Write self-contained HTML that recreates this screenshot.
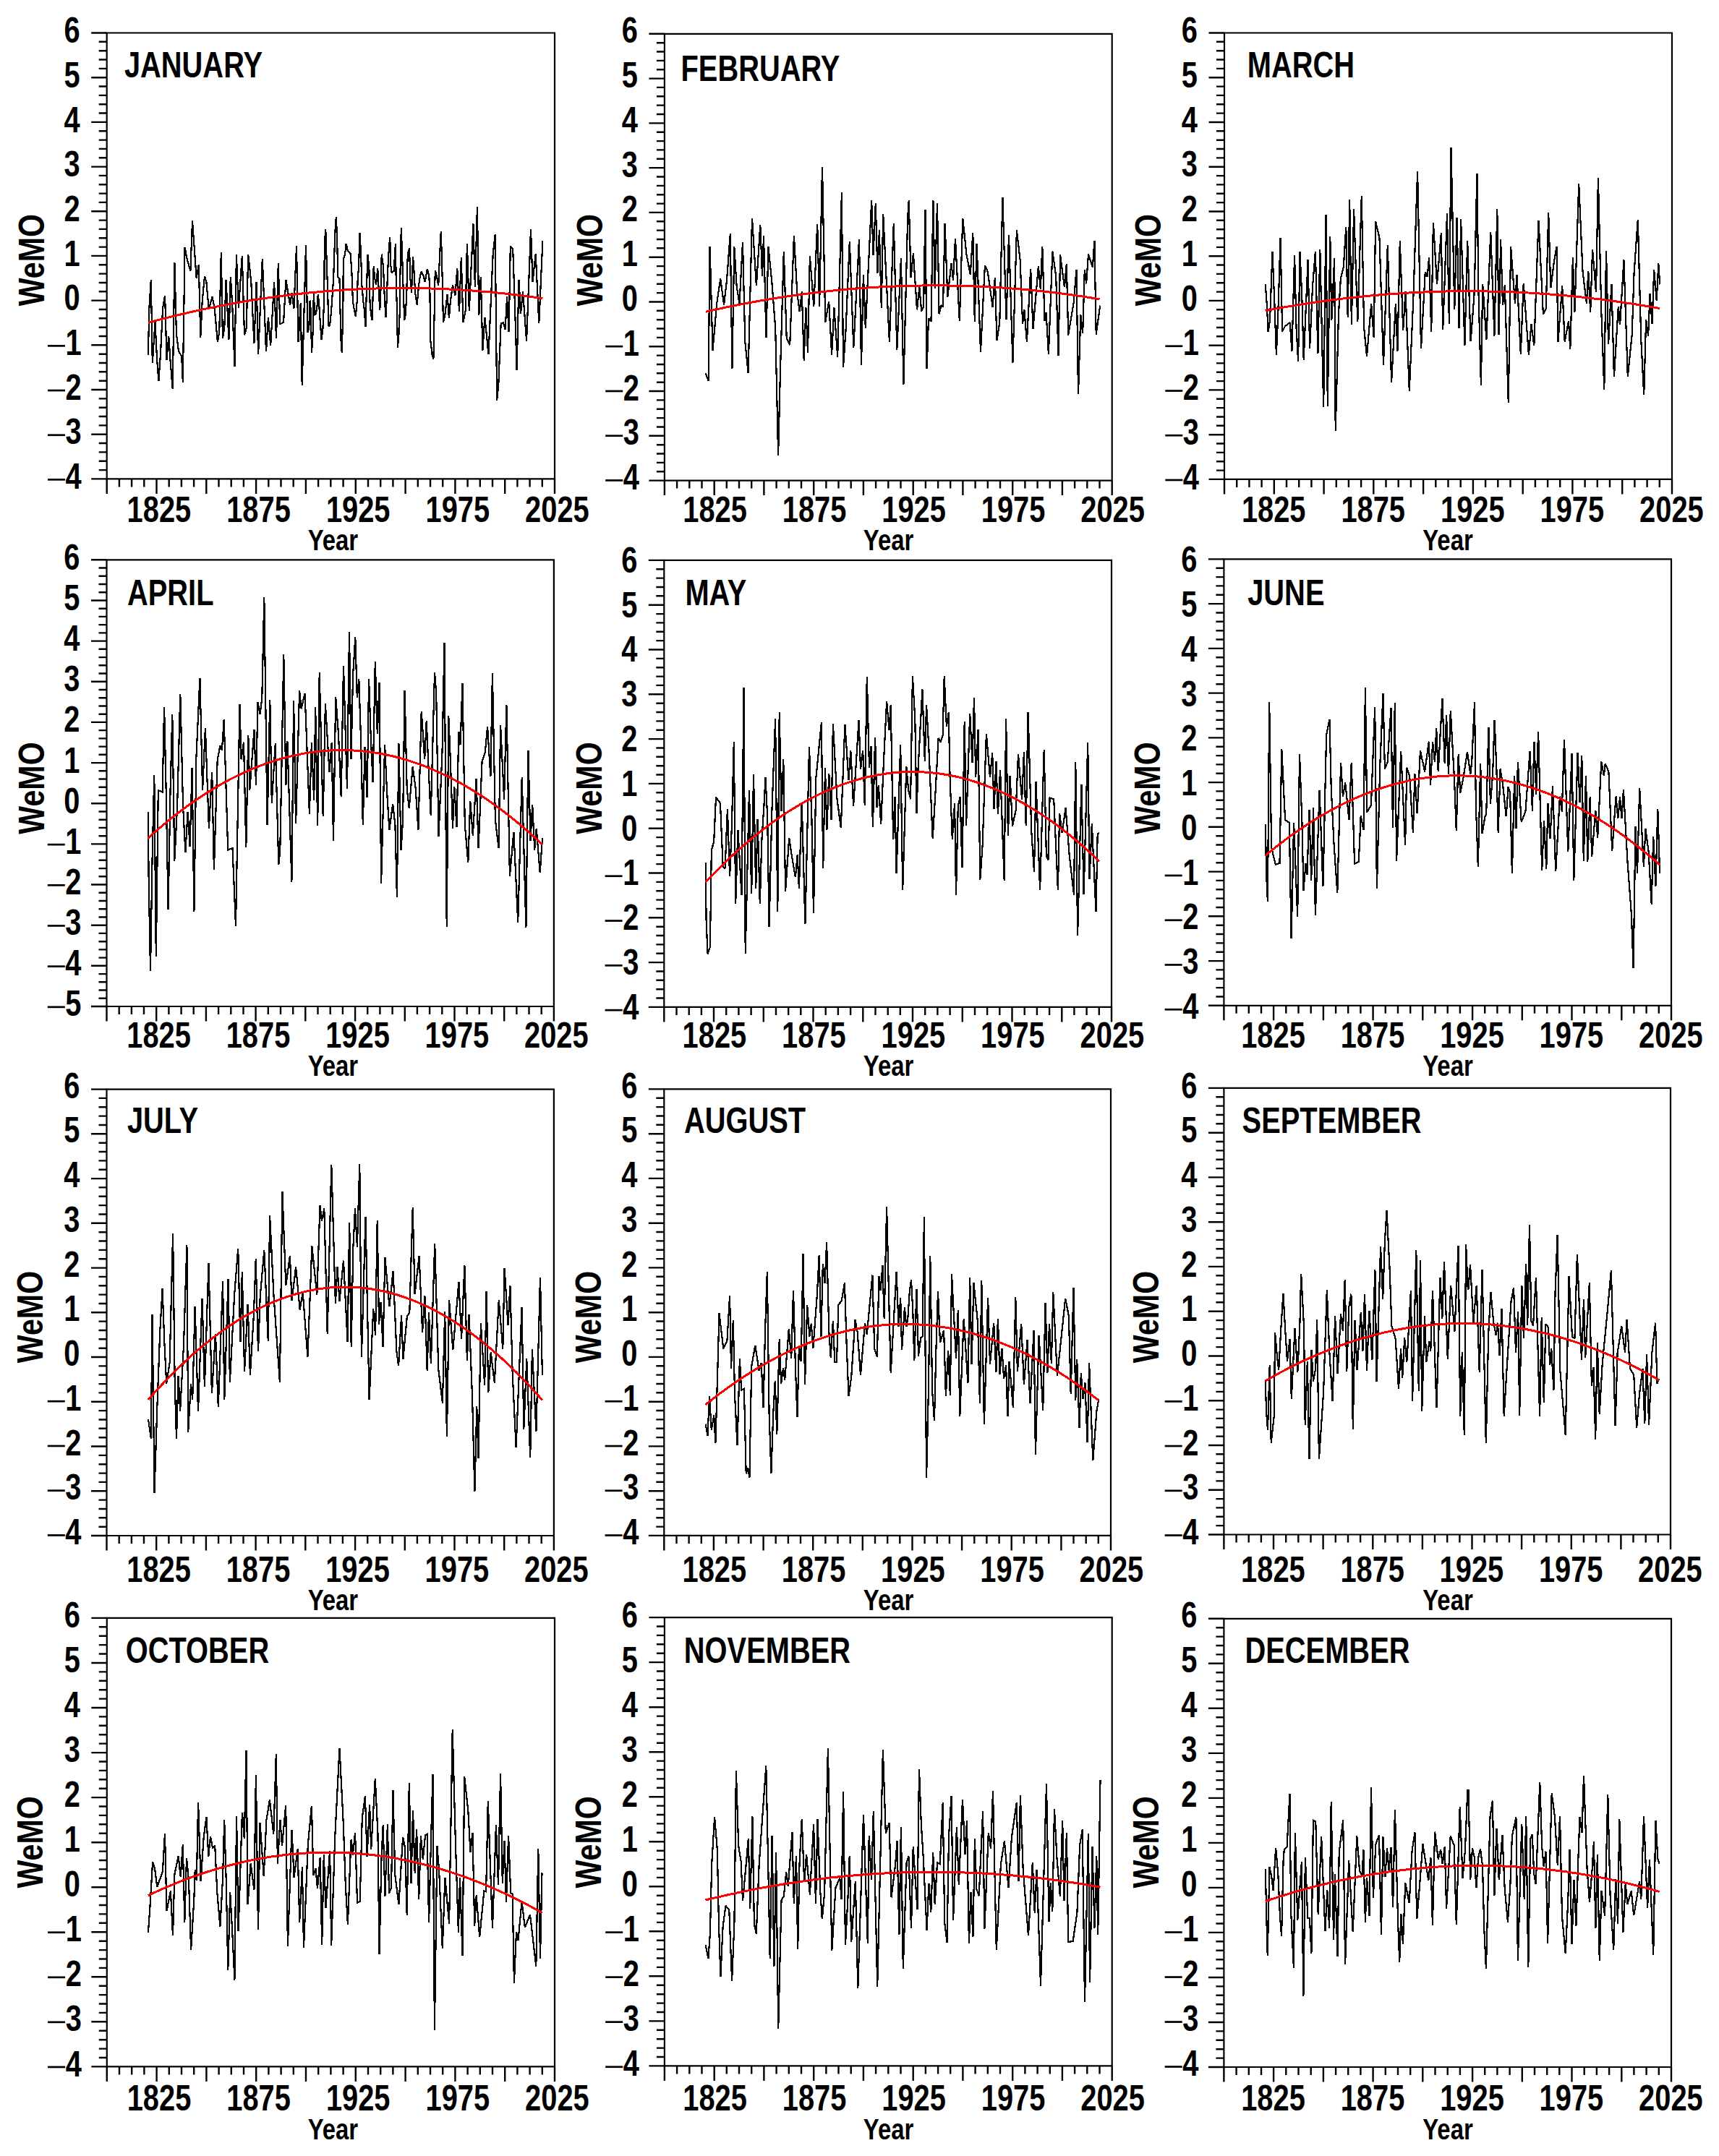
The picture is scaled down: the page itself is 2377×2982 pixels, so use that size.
<!DOCTYPE html>
<html><head><meta charset="utf-8"><title>WeMO monthly series</title>
<style>
html,body{margin:0;padding:0;background:#fff;}
body{width:2377px;height:2982px;overflow:hidden;}
svg{display:block;}
svg text{font-family:"Liberation Sans",Arial,sans-serif;font-weight:bold;font-size:49.5px;fill:#000;}
</style></head><body>
<svg xmlns="http://www.w3.org/2000/svg" width="2377" height="2982" viewBox="0 0 2377 2982">
<rect width="100%" height="100%" fill="#fff"/>
<g><path d="M204.8,491.1 206.4,425.9 208.8,386.8 210.8,501.7 214.5,445.5 217,496 219.4,526.9 221.9,491.1 225.1,425.9 228.1,408.8 230.5,497.6 233.3,465 235.7,500.9 238.7,538.3 241.4,363.2 243.9,461.8 247.1,486.2 251.2,492.7 252.8,528.5 255.6,342 258.5,357.5 263.4,374.6 266,305.4 268.6,341.2 271.6,384.4 274.8,365.7 277.3,466.6 279.7,416.2 283,381.9 285.4,390.1 288.7,427.6 293.6,410.4 296.8,427.6 300.9,473.2 303.3,458.5 305.8,349.4 307.9,468.3 310.3,453.6 312.6,386.8 316.4,469.9 318.8,382.8 321.2,421 324.5,507.4 326.9,351.8 329.9,425.9 334.8,354.3 338,463.4 340.8,453.6 343.2,351.8 347.3,390.1 351.4,474.8 354.6,390.1 357.1,490.3 362.8,358.3 368,486.2 370.9,439 374.2,478.1 379.1,390.1 382,468.3 384.8,364 387.2,448.7 392.1,445.5 395.4,386.8 401.1,421.9 403.5,404.7 406.4,426.7 410,340.4 412.5,473.2 415.7,419.4 417.7,532.6 423,339.3 424.2,399.6 425.5,459.8 427.3,453.7 428.5,415.6 429.8,429.1 431,488.1 432.8,457.3 433.8,405.7 435.3,435.2 436.8,434.6 438.4,424.2 439.8,406.9 441.4,424.2 443,448.7 444.5,469.6 446.4,454.9 448.2,415.6 448.8,336.9 450.3,317.2 451.9,367.6 453.1,400.8 454.3,451.2 456.2,449.4 458,431.5 459.6,408.2 461.1,386 462.3,351.6 463.6,317.2 464.8,300 466,324.6 467.3,383.6 469.5,386 470.3,422.9 471.6,472.1 472.8,488.1 474.4,422.9 474.6,381.1 475.2,357.8 477.1,351.6 478.6,336.9 480.8,346.7 484.5,350.4 486.3,373.8 487.9,416.8 490,429.1 491.8,438.3 493.7,416.8 494.7,386 496.1,368.8 497.4,322.1 499,349.2 500.4,394.7 502.3,416.8 503.9,429.1 505.4,452.4 507,398.3 508.4,351.6 510.3,368.8 511.5,418 513.1,435.2 514.6,443.2 515.8,404.5 516.7,367.6 518.3,386 520.1,393.4 522.3,371.3 523.2,391 525.3,429.1 526.9,391 527.7,351.6 529.9,367.6 531.8,410.6 533.4,438.9 534.9,410.6 535.8,383.6 537.3,351.6 539.2,327.7 540.4,367.6 541.6,376.8 544.7,375 546.9,336.9 547.8,392.2 549,429.1 549.9,480.7 551.5,462.3 552.7,432.8 553.3,386 554.8,315.4 556.4,361.5 557.6,398.3 559.2,442.6 560.7,435.2 562.3,408.2 563.1,367.6 564.1,349.2 566,343.6 567.4,386 569,404.5 571.1,355.3 572.4,373.8 574.2,405.7 576.7,421.7 578.9,395.9 581,381.1 582.8,375.6 585.3,381.1 587.7,389.7 590.8,372.5 593.3,381.1 594.5,406.9 595.1,469.6 597.6,490.5 599.4,496.7 600.6,435.2 601.2,394.7 601.9,373.8 604.3,383.6 606.2,395.3 608,355.3 609.8,319.7 611.7,386 612.9,445.7 615.4,435.2 618.5,406.9 620.9,440.1 623,415.6 626,394.2 629.4,408.6 632.3,371.5 635,431.3 637.8,356.3 640.4,445.7 643.8,428.8 645.9,336.9 648.8,429.7 654.4,309 656.9,396.8 659.9,286.3 662.3,436.4 664.8,383.3 667.4,484.5 670.4,438.9 675.5,490.4 681.7,351.2 684.7,324.2 687.1,553.6 689.3,531.7 692.7,447.4 696,446.5 698.6,455.8 701.1,410.3 703.6,459.2 705.8,340.2 709.2,344.5 712.1,427.1 714.6,511.5 717.5,387.5 720,433.9 723,402.7 728.1,471.8 734,317.5 736.5,390 740.7,351.2 745.3,446.5 750.4,333.5" fill="none" stroke="#000" stroke-width="2.2" stroke-linejoin="miter" stroke-miterlimit="2" shape-rendering="crispEdges"/><path d="M204.8,446.3 213.9,443.9 223,441.5 232.1,439.2 241.2,436.9 250.3,434.8 259.4,432.6 268.5,430.6 277.5,428.6 286.6,426.7 295.7,424.8 304.8,423 313.9,421.3 323,419.6 332.1,418 341.2,416.5 350.3,415 359.4,413.6 368.5,412.2 377.6,410.9 386.7,409.7 395.8,408.5 404.9,407.4 413.9,406.4 423,405.4 432.1,404.5 441.2,403.7 450.3,402.9 459.4,402.2 468.5,401.5 477.6,400.9 486.7,400.4 495.8,399.9 504.9,399.5 514,399.2 523.1,398.9 532.2,398.7 541.3,398.6 550.3,398.5 559.4,398.5 568.5,398.5 577.6,398.6 586.7,398.8 595.8,399 604.9,399.3 614,399.7 623.1,400.1 632.2,400.6 641.3,401.2 650.4,401.8 659.5,402.5 668.6,403.2 677.7,404 686.7,404.9 695.8,405.8 704.9,406.8 714,407.9 723.1,409 732.2,410.2 741.3,411.5 750.4,412.8" fill="none" stroke="#f00" stroke-width="3.0" shape-rendering="crispEdges"/><path d="M147.7,45.5H767V662.4H147.7Z" fill="none" stroke="#000" stroke-width="2.2"/><path d="M126.2,662.4H147.7M136.7,650.1H147.7M136.7,637.7H147.7M136.7,625.4H147.7M136.7,613H147.7M126.2,600.7H147.7M136.7,588.4H147.7M136.7,576H147.7M136.7,563.7H147.7M136.7,551.4H147.7M126.2,539H147.7M136.7,526.7H147.7M136.7,514.3H147.7M136.7,502H147.7M136.7,489.7H147.7M126.2,477.3H147.7M136.7,465H147.7M136.7,452.7H147.7M136.7,440.3H147.7M136.7,428H147.7M126.2,415.6H147.7M136.7,403.3H147.7M136.7,391H147.7M136.7,378.6H147.7M136.7,366.3H147.7M126.2,353.9H147.7M136.7,341.6H147.7M136.7,329.3H147.7M136.7,316.9H147.7M136.7,304.6H147.7M126.2,292.3H147.7M136.7,279.9H147.7M136.7,267.6H147.7M136.7,255.2H147.7M136.7,242.9H147.7M126.2,230.6H147.7M136.7,218.2H147.7M136.7,205.9H147.7M136.7,193.6H147.7M136.7,181.2H147.7M126.2,168.9H147.7M136.7,156.5H147.7M136.7,144.2H147.7M136.7,131.9H147.7M136.7,119.5H147.7M126.2,107.2H147.7M136.7,94.9H147.7M136.7,82.5H147.7M136.7,70.2H147.7M136.7,57.8H147.7M126.2,45.5H147.7M147.7,662.4V682.9M164.9,662.4V673.4M182.1,662.4V673.4M199.3,662.4V673.4M216.5,662.4V682.9M233.7,662.4V673.4M250.9,662.4V673.4M268.1,662.4V673.4M285.3,662.4V682.9M302.5,662.4V673.4M319.7,662.4V673.4M336.9,662.4V673.4M354.1,662.4V682.9M371.3,662.4V673.4M388.5,662.4V673.4M405.7,662.4V673.4M422.9,662.4V682.9M440.1,662.4V673.4M457.3,662.4V673.4M474.6,662.4V673.4M491.8,662.4V682.9M509,662.4V673.4M526.2,662.4V673.4M543.4,662.4V673.4M560.6,662.4V682.9M577.8,662.4V673.4M595,662.4V673.4M612.2,662.4V673.4M629.4,662.4V682.9M646.6,662.4V673.4M663.8,662.4V673.4M681,662.4V673.4M698.2,662.4V682.9M715.4,662.4V673.4M732.6,662.4V673.4M749.8,662.4V673.4M767,662.4V682.9" stroke="#000" stroke-width="2.4" fill="none"/><rect x="66" y="662" width="24" height="2.7" fill="#000"/><text transform="translate(112.7,676) scale(0.805,1)" text-anchor="end">4</text><rect x="66" y="600.4" width="24" height="2.7" fill="#000"/><text transform="translate(112.7,614.3) scale(0.805,1)" text-anchor="end">3</text><rect x="66" y="538.7" width="24" height="2.7" fill="#000"/><text transform="translate(112.7,552.6) scale(0.805,1)" text-anchor="end">2</text><rect x="66" y="477" width="24" height="2.7" fill="#000"/><text transform="translate(112.7,490.9) scale(0.805,1)" text-anchor="end">1</text><text transform="translate(110.7,429.2) scale(0.805,1)" text-anchor="end">0</text><text transform="translate(110.7,367.6) scale(0.805,1)" text-anchor="end">1</text><text transform="translate(110.7,305.9) scale(0.805,1)" text-anchor="end">2</text><text transform="translate(110.7,244.2) scale(0.805,1)" text-anchor="end">3</text><text transform="translate(110.7,182.5) scale(0.805,1)" text-anchor="end">4</text><text transform="translate(110.7,120.8) scale(0.805,1)" text-anchor="end">5</text><text transform="translate(110.7,59.1) scale(0.805,1)" text-anchor="end">6</text><text transform="translate(219.9,722.2) scale(0.805,1)" text-anchor="middle">1825</text><text transform="translate(357.5,722.2) scale(0.805,1)" text-anchor="middle">1875</text><text transform="translate(495.2,722.2) scale(0.805,1)" text-anchor="middle">1925</text><text transform="translate(632.8,722.2) scale(0.805,1)" text-anchor="middle">1975</text><text transform="translate(770.4,722.2) scale(0.805,1)" text-anchor="middle">2025</text><text transform="translate(460.4,761) scale(0.822,1)" text-anchor="middle" style="font-size:40px">Year</text><text transform="translate(61.4,359.7) rotate(-90) scale(0.832,1)" text-anchor="middle">WeMO</text><text transform="translate(171.9,107) scale(0.805,1)">JANUARY</text></g>
<g><path d="M975.7,516.1 979.6,526.8 981.6,340.8 985.5,484.9 991.3,418.7 996.2,385.6 1001.1,421.6 1005,387.5 1009.8,323.2 1012.4,510.2 1015.3,340.8 1018.6,395.3 1022.5,420.6 1027,334.9 1030.3,473.2 1034.6,516.1 1040,301.8 1045.9,395.3 1051.3,310.6 1054,381.7 1056,326.2 1059.5,467.4 1062.4,340.8 1067.3,389.5 1072.2,453.7 1076.1,630 1079,512.2 1083.8,347.6 1087.7,467.4 1092.2,477.1 1097.9,326.2 1102.3,405 1105.7,431.3 1108.8,403.1 1111.7,498.5 1114.4,425.5 1117,487.8 1119.9,354.4 1125.3,423.5 1130.2,309.6 1133.1,423.5 1137,230.7 1141.3,445.9 1146.2,416.7 1150.1,490.7 1153.4,425.5 1158.2,493.7 1163.9,265.8 1166,508.3 1169.5,457.6 1174.8,333.9 1180.3,481 1188,331 1191,505.4 1193.9,379.7 1196.8,453.7 1205.2,277.5 1207.5,352.5 1210.8,281.4 1213.4,377.8 1215.9,318.4 1218.8,425.5 1221.2,296 1229.9,473.2 1235.8,308.6 1240.3,483.9 1245.9,357.3 1249.4,531.6 1255.2,299.9 1256.7,277.5 1259.6,383.6 1262.9,350.5 1268,428.4 1271.3,397.2 1274.2,430.4 1277.1,424.5 1279.5,290.1 1281.6,510.2 1284,440.1 1287.5,445 1290.4,277.5 1292.7,399.2 1296,281.4 1298.6,434.3 1301.5,422.6 1304,424.5 1306.6,308.6 1310.3,410.9 1315.5,364.1 1318,387.5 1321,330.1 1326.8,444 1331.3,301.8 1336.5,352.5 1341.8,379.7 1345.3,322.3 1347.8,445 1350.6,336.9 1356,486.8 1361.9,367.1 1365.8,375.8 1372.6,424.5 1375.9,383.6 1378.4,471.3 1382.3,445.9 1386.4,272.6 1391.5,442 1395,325.2 1400.4,501.5 1405.9,318.4 1410.6,359.3 1414.1,447.9 1416.4,428.4 1419.9,473.2 1425.2,371.9 1428.5,454.7 1435.9,368 1438.8,400.2 1441.3,340.8 1444.6,444 1446.6,432.3 1449.9,489.8 1455.4,347.6 1460.2,381.7 1463.5,491.7 1466.1,352.5 1471.9,397.2 1474.8,365.1 1477.2,463.5 1484.6,418.7 1488.5,372.9 1491,545.3 1494.3,435.2 1497.2,460.6 1499.8,372.9 1502.1,392.4 1505,351.5 1510.9,370 1513.4,332.6 1515.7,462.5 1521.2,422.6" fill="none" stroke="#000" stroke-width="2.2" stroke-linejoin="miter" stroke-miterlimit="2" shape-rendering="crispEdges"/><path d="M975.7,431.3 984.8,429.2 993.9,427.2 1002.9,425.3 1012,423.4 1021.1,421.6 1030.2,419.8 1039.3,418.1 1048.4,416.5 1057.4,414.9 1066.5,413.4 1075.6,411.9 1084.7,410.5 1093.8,409.2 1102.8,407.9 1111.9,406.7 1121,405.5 1130.1,404.4 1139.2,403.4 1148.3,402.4 1157.3,401.5 1166.4,400.6 1175.5,399.8 1184.6,399.1 1193.7,398.4 1202.7,397.8 1211.8,397.2 1220.9,396.7 1230,396.3 1239.1,395.9 1248.2,395.6 1257.2,395.3 1266.3,395.1 1275.4,395 1284.5,394.9 1293.6,394.9 1302.6,394.9 1311.7,395 1320.8,395.1 1329.9,395.4 1339,395.6 1348,396 1357.1,396.4 1366.2,396.8 1375.3,397.4 1384.4,397.9 1393.5,398.6 1402.5,399.3 1411.6,400 1420.7,400.8 1429.8,401.7 1438.9,402.7 1447.9,403.7 1457,404.7 1466.1,405.8 1475.2,407 1484.3,408.2 1493.4,409.5 1502.4,410.9 1511.5,412.3 1520.6,413.8" fill="none" stroke="#f00" stroke-width="3.0" shape-rendering="crispEdges"/><path d="M918.9,46.8H1537.7V664.6H918.9Z" fill="none" stroke="#000" stroke-width="2.2"/><path d="M897.4,664.6H918.9M907.9,652.2H918.9M907.9,639.9H918.9M907.9,627.5H918.9M907.9,615.2H918.9M897.4,602.8H918.9M907.9,590.5H918.9M907.9,578.1H918.9M907.9,565.8H918.9M907.9,553.4H918.9M897.4,541H918.9M907.9,528.7H918.9M907.9,516.3H918.9M907.9,504H918.9M907.9,491.6H918.9M897.4,479.3H918.9M907.9,466.9H918.9M907.9,454.5H918.9M907.9,442.2H918.9M907.9,429.8H918.9M897.4,417.5H918.9M907.9,405.1H918.9M907.9,392.8H918.9M907.9,380.4H918.9M907.9,368.1H918.9M897.4,355.7H918.9M907.9,343.3H918.9M907.9,331H918.9M907.9,318.6H918.9M907.9,306.3H918.9M897.4,293.9H918.9M907.9,281.6H918.9M907.9,269.2H918.9M907.9,256.9H918.9M907.9,244.5H918.9M897.4,232.1H918.9M907.9,219.8H918.9M907.9,207.4H918.9M907.9,195.1H918.9M907.9,182.7H918.9M897.4,170.4H918.9M907.9,158H918.9M907.9,145.6H918.9M907.9,133.3H918.9M907.9,120.9H918.9M897.4,108.6H918.9M907.9,96.2H918.9M907.9,83.9H918.9M907.9,71.5H918.9M907.9,59.2H918.9M897.4,46.8H918.9M918.9,664.6V685.1M936.1,664.6V675.6M953.3,664.6V675.6M970.5,664.6V675.6M987.7,664.6V685.1M1004.8,664.6V675.6M1022,664.6V675.6M1039.2,664.6V675.6M1056.4,664.6V685.1M1073.6,664.6V675.6M1090.8,664.6V675.6M1108,664.6V675.6M1125.2,664.6V685.1M1142.4,664.6V675.6M1159.5,664.6V675.6M1176.7,664.6V675.6M1193.9,664.6V685.1M1211.1,664.6V675.6M1228.3,664.6V675.6M1245.5,664.6V675.6M1262.7,664.6V685.1M1279.9,664.6V675.6M1297.1,664.6V675.6M1314.2,664.6V675.6M1331.4,664.6V685.1M1348.6,664.6V675.6M1365.8,664.6V675.6M1383,664.6V675.6M1400.2,664.6V685.1M1417.4,664.6V675.6M1434.6,664.6V675.6M1451.8,664.6V675.6M1468.9,664.6V685.1M1486.1,664.6V675.6M1503.3,664.6V675.6M1520.5,664.6V675.6M1537.7,664.6V685.1" stroke="#000" stroke-width="2.4" fill="none"/><rect x="837.2" y="663.1" width="24" height="2.7" fill="#000"/><text transform="translate(883.9,677.1) scale(0.805,1)" text-anchor="end">4</text><rect x="837.2" y="601.4" width="24" height="2.7" fill="#000"/><text transform="translate(883.9,615.3) scale(0.805,1)" text-anchor="end">3</text><rect x="837.2" y="539.6" width="24" height="2.7" fill="#000"/><text transform="translate(883.9,553.5) scale(0.805,1)" text-anchor="end">2</text><rect x="837.2" y="477.8" width="24" height="2.7" fill="#000"/><text transform="translate(883.9,491.8) scale(0.805,1)" text-anchor="end">1</text><text transform="translate(881.9,430) scale(0.805,1)" text-anchor="end">0</text><text transform="translate(881.9,368.2) scale(0.805,1)" text-anchor="end">1</text><text transform="translate(881.9,306.4) scale(0.805,1)" text-anchor="end">2</text><text transform="translate(881.9,244.6) scale(0.805,1)" text-anchor="end">3</text><text transform="translate(881.9,182.9) scale(0.805,1)" text-anchor="end">4</text><text transform="translate(881.9,121.1) scale(0.805,1)" text-anchor="end">5</text><text transform="translate(881.9,59.3) scale(0.805,1)" text-anchor="end">6</text><text transform="translate(988.6,722.2) scale(0.805,1)" text-anchor="middle">1825</text><text transform="translate(1126.1,722.2) scale(0.805,1)" text-anchor="middle">1875</text><text transform="translate(1263.6,722.2) scale(0.805,1)" text-anchor="middle">1925</text><text transform="translate(1401.1,722.2) scale(0.805,1)" text-anchor="middle">1975</text><text transform="translate(1538.6,722.2) scale(0.805,1)" text-anchor="middle">2025</text><text transform="translate(1228.6,761) scale(0.822,1)" text-anchor="middle" style="font-size:40px">Year</text><text transform="translate(832.9,359.7) rotate(-90) scale(0.832,1)" text-anchor="middle">WeMO</text><text transform="translate(941.5,111.7) scale(0.805,1)">FEBRUARY</text></g>
<g><path d="M1749.7,392.6 1751.7,419.8 1753.6,458.8 1756,443.2 1759.5,347.8 1762.4,419.8 1764.9,490.9 1767.3,433.5 1770.6,329.3 1773.1,458.8 1777,451 1783.8,446.1 1786.4,486.1 1790.1,352.6 1792.6,454.9 1795.1,499.7 1797.5,347.8 1800.4,414 1802.7,497.8 1808.6,359.5 1811.1,482.2 1815,396.5 1818.9,347.8 1822.4,489 1825.3,344.9 1830.2,563 1833.5,297.1 1835.8,562 1839.3,327.3 1841.3,443.2 1845.2,357.5 1846.7,596.1 1851,433.5 1853.9,384.8 1857.8,369.2 1861.3,313.7 1863.7,439.3 1866.2,275.7 1868.9,449.1 1872.1,289.3 1877.3,445.2 1882.8,270.8 1886.1,453 1890,492.9 1896.2,419.8 1899.7,466.6 1902.1,305.9 1907.5,329.3 1913,504.6 1918.8,339 1924.1,528.9 1929.9,419.8 1932.4,486.1 1935.8,333.2 1940.2,456.8 1943.5,403.3 1948.8,540.6 1954.3,414 1960.1,236.7 1965,482.2 1970.8,376 1973.7,382.8 1976.1,355.6 1979.2,458.8 1981.9,307.8 1987,392.6 1992.8,322.5 1995.2,455.9 2001,295.2 2003.9,448.1 2006.5,203.6 2011.3,427.6 2014.6,301 2017.6,453.9 2020.1,303 2025.4,478.3 2029.2,333.2 2033.6,472.4 2038.5,408.2 2039.5,369.2 2042.4,239.7 2044.3,397.4 2047.9,532.8 2050.2,392.6 2055.4,469.5 2061.3,321.5 2066.4,464.6 2070.3,289.3 2072.6,462.7 2075.1,331.2 2078,421.8 2080.8,394.5 2085.8,557.2 2089.1,341 2095,419.8 2097.5,379.9 2102.8,490 2106.7,391.6 2113.9,490.9 2117.4,448.1 2121.3,478.3 2127.5,304.9 2133.9,434.4 2137.8,426.7 2141.2,294.2 2144.3,398.4 2148.6,364.3 2152.5,341 2154.4,473.4 2160.2,395.5 2163.7,472.4 2169,444.2 2171.3,483.1 2174.9,355.6 2177.4,431.5 2183.2,254.3 2188.5,375 2193.9,419.8 2196.3,375 2199.2,431.5 2202.1,344.9 2207,404.3 2209.9,246.5 2214.4,433.5 2218.3,538.7 2221,346.8 2224.1,476.3 2228.4,392.6 2231.9,521.1 2237.8,423.7 2240.1,449.1 2245.4,359.5 2250.8,521.1 2256.7,462.7 2259.6,377 2264.8,303.9 2269.3,470.5 2273.2,546.4 2276.1,442.2 2279.1,464.6 2281.6,406.2 2284.5,448.1 2287.2,373.1 2290.7,415.9 2293.3,364.3 2295.2,393.5" fill="none" stroke="#000" stroke-width="2.2" stroke-linejoin="miter" stroke-miterlimit="2" shape-rendering="crispEdges"/><path d="M1749.7,429.7 1758.8,428 1767.9,426.3 1777,424.7 1786.1,423.1 1795.2,421.7 1804.2,420.2 1813.3,418.8 1822.4,417.5 1831.5,416.3 1840.6,415 1849.7,413.9 1858.8,412.8 1867.9,411.8 1877,410.8 1886.1,409.9 1895.2,409 1904.3,408.2 1913.3,407.4 1922.4,406.7 1931.5,406.1 1940.6,405.5 1949.7,404.9 1958.8,404.5 1967.9,404.1 1977,403.7 1986.1,403.4 1995.2,403.1 2004.3,402.9 2013.4,402.8 2022.4,402.7 2031.5,402.7 2040.6,402.7 2049.7,402.8 2058.8,403 2067.9,403.2 2077,403.4 2086.1,403.7 2095.2,404.1 2104.3,404.5 2113.4,405 2122.5,405.6 2131.5,406.2 2140.6,406.8 2149.7,407.5 2158.8,408.3 2167.9,409.1 2177,410 2186.1,410.9 2195.2,411.9 2204.3,413 2213.4,414.1 2222.5,415.2 2231.6,416.5 2240.6,417.7 2249.7,419.1 2258.8,420.4 2267.9,421.9 2277,423.4 2286.1,424.9 2295.2,426.6" fill="none" stroke="#f00" stroke-width="3.0" shape-rendering="crispEdges"/><path d="M1693,45.5H2312V662.9H1693Z" fill="none" stroke="#000" stroke-width="2.2"/><path d="M1671.5,662.9H1693M1682,650.6H1693M1682,638.2H1693M1682,625.9H1693M1682,613.5H1693M1671.5,601.2H1693M1682,588.8H1693M1682,576.5H1693M1682,564.1H1693M1682,551.8H1693M1671.5,539.4H1693M1682,527.1H1693M1682,514.7H1693M1682,502.4H1693M1682,490H1693M1671.5,477.7H1693M1682,465.3H1693M1682,453H1693M1682,440.6H1693M1682,428.3H1693M1671.5,415.9H1693M1682,403.6H1693M1682,391.2H1693M1682,378.9H1693M1682,366.5H1693M1671.5,354.2H1693M1682,341.9H1693M1682,329.5H1693M1682,317.2H1693M1682,304.8H1693M1671.5,292.5H1693M1682,280.1H1693M1682,267.8H1693M1682,255.4H1693M1682,243.1H1693M1671.5,230.7H1693M1682,218.4H1693M1682,206H1693M1682,193.7H1693M1682,181.3H1693M1671.5,169H1693M1682,156.6H1693M1682,144.3H1693M1682,131.9H1693M1682,119.6H1693M1671.5,107.2H1693M1682,94.9H1693M1682,82.5H1693M1682,70.2H1693M1682,57.8H1693M1671.5,45.5H1693M1693,662.9V683.4M1710.2,662.9V673.9M1727.4,662.9V673.9M1744.6,662.9V673.9M1761.8,662.9V683.4M1779,662.9V673.9M1796.2,662.9V673.9M1813.4,662.9V673.9M1830.6,662.9V683.4M1847.8,662.9V673.9M1864.9,662.9V673.9M1882.1,662.9V673.9M1899.3,662.9V683.4M1916.5,662.9V673.9M1933.7,662.9V673.9M1950.9,662.9V673.9M1968.1,662.9V683.4M1985.3,662.9V673.9M2002.5,662.9V673.9M2019.7,662.9V673.9M2036.9,662.9V683.4M2054.1,662.9V673.9M2071.3,662.9V673.9M2088.5,662.9V673.9M2105.7,662.9V683.4M2122.9,662.9V673.9M2140.1,662.9V673.9M2157.2,662.9V673.9M2174.4,662.9V683.4M2191.6,662.9V673.9M2208.8,662.9V673.9M2226,662.9V673.9M2243.2,662.9V683.4M2260.4,662.9V673.9M2277.6,662.9V673.9M2294.8,662.9V673.9M2312,662.9V683.4" stroke="#000" stroke-width="2.4" fill="none"/><rect x="1611.3" y="662.6" width="24" height="2.7" fill="#000"/><text transform="translate(1658,676.6) scale(0.805,1)" text-anchor="end">4</text><rect x="1611.3" y="600.9" width="24" height="2.7" fill="#000"/><text transform="translate(1658,614.9) scale(0.805,1)" text-anchor="end">3</text><rect x="1611.3" y="539.2" width="24" height="2.7" fill="#000"/><text transform="translate(1658,553.1) scale(0.805,1)" text-anchor="end">2</text><rect x="1611.3" y="477.4" width="24" height="2.7" fill="#000"/><text transform="translate(1658,491.4) scale(0.805,1)" text-anchor="end">1</text><text transform="translate(1656,429.6) scale(0.805,1)" text-anchor="end">0</text><text transform="translate(1656,367.9) scale(0.805,1)" text-anchor="end">1</text><text transform="translate(1656,306.2) scale(0.805,1)" text-anchor="end">2</text><text transform="translate(1656,244.4) scale(0.805,1)" text-anchor="end">3</text><text transform="translate(1656,182.7) scale(0.805,1)" text-anchor="end">4</text><text transform="translate(1656,120.9) scale(0.805,1)" text-anchor="end">5</text><text transform="translate(1656,59.2) scale(0.805,1)" text-anchor="end">6</text><text transform="translate(1761.2,722.2) scale(0.805,1)" text-anchor="middle">1825</text><text transform="translate(1898.7,722.2) scale(0.805,1)" text-anchor="middle">1875</text><text transform="translate(2036.3,722.2) scale(0.805,1)" text-anchor="middle">1925</text><text transform="translate(2173.8,722.2) scale(0.805,1)" text-anchor="middle">1975</text><text transform="translate(2311.4,722.2) scale(0.805,1)" text-anchor="middle">2025</text><text transform="translate(2002,761) scale(0.822,1)" text-anchor="middle" style="font-size:40px">Year</text><text transform="translate(1604.5,359.7) rotate(-90) scale(0.832,1)" text-anchor="middle">WeMO</text><text transform="translate(1724.7,106.9) scale(0.805,1)">MARCH</text></g>
<g><path d="M205,1123 205.5,1205.7 208,1343.4 210.5,1190.7 213.3,1071.7 215.8,1323.4 218.8,1093 224.6,1095.5 227.1,977.8 229.6,1090.5 232.6,1258.3 235.6,1090.5 238.3,987.8 241.3,1190.7 245.1,1115.5 249.3,959.8 253.1,1115.5 256.4,1179.4 259.6,1123 262.6,1170.6 265.6,1061.7 268.4,1260.8 271.4,1047.9 276.4,937.7 280.1,1093 283.9,1006.6 288.9,1145.6 293.2,1067.9 295.9,1203.2 300.7,1050.4 304.4,1031.6 306.9,1037.9 309.7,995.3 315.2,1175.6 321.5,1173.1 326,1280.8 331.5,974.5 333.5,1050.4 337,1026.6 340.3,1171.9 343.3,1016.6 345.3,1093 351.5,1009.1 354,1085.5 356.5,971.5 359.5,987.8 362.3,965.3 365.3,826.3 369.6,1140.6 373.3,967.8 375.8,1110.5 380.8,1027.9 385.3,1195.7 387.3,1175.6 392.3,905.2 395.4,1085.5 397.4,1025.4 403.4,1219.5 406.1,969 409.1,1139.3 414.1,955.2 416.6,980.3 421.6,959 427.9,1125.5 430.9,1026.6 434.2,1106.8 436.2,977.8 439.2,1141.8 441.7,930.2 446.7,1129.3 449.9,972.8 455.5,1067.9 458.7,1026.6 461,1163.1 464.2,964 468,1015.4 471.7,1101.8 475,921.4 480,1090.5 483,873.9 485.5,1050.4 488,935.2 491.3,881.4 493.8,965.3 496.3,939 498.8,1015.4 501.8,1140.6 504.6,1032.9 507.6,1103 510.1,939 512.6,1015.4 515.6,1081.7 518.8,915.2 521.8,1015.4 524.6,944 527.1,1222 532.1,1030.4 535.1,1095.5 538.4,1148.1 543.1,1111.8 546.4,1140.6 548.9,1240.7 551.4,1027.9 554.6,1175.6 557.1,1133.1 559.6,955.2 562.7,1090.5 565.7,1118 570.7,1060.4 574.7,1090.5 578.4,1148.1 582.7,984 587.2,1050.4 589.7,996.6 592.7,1065.4 595.7,1128 601,930.2 603.2,957.7 606.5,1156.8 611.5,1040.4 614.5,888.9 617.7,1282.1 620.3,990.3 622.8,1050.4 626,1145.6 628.3,1088 631.5,1144.3 634.3,1011.6 636.5,1030.4 639.5,945.2 642.8,1140.6 647.3,1193.2 650.3,1108 653.8,1155.6 658.6,1076.7 661.6,1173.1 666.6,1052.9 670.8,1040.4 674.1,1005.3 678.4,1074.2 680.9,931.5 684.9,1134.3 689.6,1173.1 692.1,1002.8 697.1,1105.5 700.4,975.3 704.9,1211.9 710.4,1150.6 716.2,1275.8 721.7,1075.5 727.4,1283.3 730.4,1037.9 733.5,1163.1 736.2,1113 739.2,1175.6 741.7,1145.6 746.7,1206.9 750,1159.4" fill="none" stroke="#000" stroke-width="2.2" stroke-linejoin="miter" stroke-miterlimit="2" shape-rendering="crispEdges"/><path d="M204.5,1159.5 213.6,1151.3 222.7,1143.5 231.8,1135.9 240.9,1128.6 250,1121.6 259.1,1114.9 268.1,1108.4 277.2,1102.3 286.3,1096.4 295.4,1090.8 304.5,1085.4 313.6,1080.4 322.7,1075.6 331.8,1071.2 340.9,1067 350,1063 359.1,1059.4 368.1,1056 377.2,1052.9 386.3,1050.1 395.4,1047.6 404.5,1045.4 413.6,1043.4 422.7,1041.7 431.8,1040.3 440.9,1039.2 450,1038.4 459.1,1037.8 468.2,1037.5 477.2,1037.5 486.3,1037.8 495.4,1038.4 504.5,1039.2 513.6,1040.3 522.7,1041.8 531.8,1043.4 540.9,1045.4 550,1047.6 559.1,1050.2 568.2,1053 577.3,1056.1 586.4,1059.4 595.4,1063.1 604.5,1067 613.6,1071.2 622.7,1075.7 631.8,1080.5 640.9,1085.5 650,1090.8 659.1,1096.5 668.2,1102.3 677.3,1108.5 686.4,1115 695.5,1121.7 704.5,1128.7 713.6,1136 722.7,1143.6 731.8,1151.4 740.9,1159.6 750,1168" fill="none" stroke="#f00" stroke-width="3.0" shape-rendering="crispEdges"/><path d="M147.5,774.3H765.9V1392H147.5Z" fill="none" stroke="#000" stroke-width="2.2"/><path d="M126,1392H147.5M136.5,1380.8H147.5M136.5,1369.5H147.5M136.5,1358.3H147.5M136.5,1347.1H147.5M126,1335.8H147.5M136.5,1324.6H147.5M136.5,1313.4H147.5M136.5,1302.2H147.5M136.5,1290.9H147.5M126,1279.7H147.5M136.5,1268.5H147.5M136.5,1257.2H147.5M136.5,1246H147.5M136.5,1234.8H147.5M126,1223.5H147.5M136.5,1212.3H147.5M136.5,1201.1H147.5M136.5,1189.8H147.5M136.5,1178.6H147.5M126,1167.4H147.5M136.5,1156.2H147.5M136.5,1144.9H147.5M136.5,1133.7H147.5M136.5,1122.5H147.5M126,1111.2H147.5M136.5,1100H147.5M136.5,1088.8H147.5M136.5,1077.5H147.5M136.5,1066.3H147.5M126,1055.1H147.5M136.5,1043.8H147.5M136.5,1032.6H147.5M136.5,1021.4H147.5M136.5,1010.1H147.5M126,998.9H147.5M136.5,987.7H147.5M136.5,976.5H147.5M136.5,965.2H147.5M136.5,954H147.5M126,942.8H147.5M136.5,931.5H147.5M136.5,920.3H147.5M136.5,909.1H147.5M136.5,897.8H147.5M126,886.6H147.5M136.5,875.4H147.5M136.5,864.1H147.5M136.5,852.9H147.5M136.5,841.7H147.5M126,830.5H147.5M136.5,819.2H147.5M136.5,808H147.5M136.5,796.8H147.5M136.5,785.5H147.5M126,774.3H147.5M147.5,1392V1412.5M164.7,1392V1403M181.9,1392V1403M199,1392V1403M216.2,1392V1412.5M233.4,1392V1403M250.6,1392V1403M267.7,1392V1403M284.9,1392V1412.5M302.1,1392V1403M319.3,1392V1403M336.5,1392V1403M353.6,1392V1412.5M370.8,1392V1403M388,1392V1403M405.2,1392V1403M422.3,1392V1412.5M439.5,1392V1403M456.7,1392V1403M473.9,1392V1403M491.1,1392V1412.5M508.2,1392V1403M525.4,1392V1403M542.6,1392V1403M559.8,1392V1412.5M576.9,1392V1403M594.1,1392V1403M611.3,1392V1403M628.5,1392V1412.5M645.7,1392V1403M662.8,1392V1403M680,1392V1403M697.2,1392V1412.5M714.4,1392V1403M731.5,1392V1403M748.7,1392V1403M765.9,1392V1412.5" stroke="#000" stroke-width="2.4" fill="none"/><rect x="65.8" y="1391.5" width="24" height="2.7" fill="#000"/><text transform="translate(112.5,1405.4) scale(0.805,1)" text-anchor="end">5</text><rect x="65.8" y="1335.3" width="24" height="2.7" fill="#000"/><text transform="translate(112.5,1349.2) scale(0.805,1)" text-anchor="end">4</text><rect x="65.8" y="1279.1" width="24" height="2.7" fill="#000"/><text transform="translate(112.5,1293.1) scale(0.805,1)" text-anchor="end">3</text><rect x="65.8" y="1223" width="24" height="2.7" fill="#000"/><text transform="translate(112.5,1236.9) scale(0.805,1)" text-anchor="end">2</text><rect x="65.8" y="1166.8" width="24" height="2.7" fill="#000"/><text transform="translate(112.5,1180.8) scale(0.805,1)" text-anchor="end">1</text><text transform="translate(110.5,1124.6) scale(0.805,1)" text-anchor="end">0</text><text transform="translate(110.5,1068.5) scale(0.805,1)" text-anchor="end">1</text><text transform="translate(110.5,1012.3) scale(0.805,1)" text-anchor="end">2</text><text transform="translate(110.5,956.2) scale(0.805,1)" text-anchor="end">3</text><text transform="translate(110.5,900) scale(0.805,1)" text-anchor="end">4</text><text transform="translate(110.5,843.9) scale(0.805,1)" text-anchor="end">5</text><text transform="translate(110.5,787.7) scale(0.805,1)" text-anchor="end">6</text><text transform="translate(219.6,1448.8) scale(0.805,1)" text-anchor="middle">1825</text><text transform="translate(357,1448.8) scale(0.805,1)" text-anchor="middle">1875</text><text transform="translate(494.5,1448.8) scale(0.805,1)" text-anchor="middle">1925</text><text transform="translate(631.9,1448.8) scale(0.805,1)" text-anchor="middle">1975</text><text transform="translate(769.3,1448.8) scale(0.805,1)" text-anchor="middle">2025</text><text transform="translate(460.4,1488) scale(0.822,1)" text-anchor="middle" style="font-size:40px">Year</text><text transform="translate(60.6,1090) rotate(-90) scale(0.832,1)" text-anchor="middle">WeMO</text><text transform="translate(176,837) scale(0.805,1)">APRIL</text></g>
<g><path d="M975.7,1192.7 976.6,1272.5 978.5,1319.4 981.9,1310 983.8,1176.7 987.2,1163.5 990,1102.5 996,1111 999.7,1199.2 1002.6,1201.1 1005.9,1119.4 1009.1,1212.4 1012,1139.1 1014.8,1026.4 1017.2,1249.9 1020.4,1147.6 1025.5,1237.7 1028.5,951.3 1030.7,1318.5 1036,1093.1 1039.2,1235.9 1042,1070.6 1045.2,1229.3 1047.6,1133.5 1050.8,1249.9 1053.3,1163.5 1056.7,1110 1058.5,1075.3 1061.2,1129.7 1063.6,1281.9 1067.4,1122.2 1072.1,994.5 1075.3,1261.2 1077.7,985.1 1080.5,1122.2 1083.3,1049.9 1086.1,1233 1091.2,1158.8 1094.6,1182.3 1099.9,1213.3 1102.7,1182.3 1104.9,1229.3 1108.7,1110 1113.4,1278.1 1119,1033 1122.4,1131.6 1125,1263.1 1128.4,1075.3 1135.9,999.2 1138.2,1201.1 1141,1062.1 1143.4,1147.6 1146.3,1069.6 1149.6,1133.5 1151.9,1001.1 1157.5,1105.3 1162.8,1144.8 1168.4,1002 1173.5,1079 1176.3,1037.7 1180.1,1114.7 1187.6,996 1190,1064 1193.2,1037.7 1195.7,1113.8 1198.8,936.3 1202,1062.1 1204.5,1032.1 1206.9,1143.8 1210.1,1019.9 1212.6,1116.6 1214.8,1085.6 1218.2,1140.1 1221.9,1054.6 1226.1,969.7 1229.5,1009.5 1231.7,974.8 1235.1,1160.7 1237.4,1101.6 1239.6,1207.7 1245.2,1030.2 1248.2,1231.2 1253.3,1060.2 1256.3,1094 1259.1,1105.3 1261.9,935.3 1265.3,994.5 1267.5,1125 1269.4,1065.9 1275.4,953.2 1278.8,1052.7 1281.1,974.8 1284.4,1035.8 1289.7,1159.8 1293.5,1095.9 1297.6,1020.8 1300.4,1026.4 1303.6,1017 1305.7,935.3 1308.9,1004.8 1311.7,985.1 1313.6,1075.3 1316.8,1160.7 1320.1,1111 1322,1237.7 1324.8,1114.7 1327.6,1102.5 1330.5,1200.2 1333.7,998.3 1336.1,1141.9 1341.2,987 1344.5,1054.6 1347,965.4 1349.2,1075.3 1352.6,1009.5 1355.3,1217.1 1358.6,1169.2 1363.9,1015.2 1369,1075.3 1372.2,1041.5 1374.6,1118.5 1377.4,1052.7 1379.9,1126 1383.1,1064.9 1388.7,1218 1391.1,993.6 1393.9,1156 1396.6,1073.4 1400,1142.9 1404.7,1120.3 1408,1043.3 1413.1,1106.3 1415.9,1040.5 1418.7,1141.9 1421.6,985.1 1426.3,1150.4 1430,1205.8 1432.5,1080.9 1438.1,1231.2 1443.7,1036.8 1446.9,1184.2 1449.4,1189.8 1451.6,1103.4 1457.2,1105.3 1462.9,1231.2 1465.1,1125 1468.5,1152.3 1473.6,1117.5 1478.8,1184.2 1485,1237.7 1487.3,1053.7 1490.1,1294.1 1492.9,1184.2 1495.4,1084.7 1498.6,1236.8 1504.2,1027.4 1506.5,1216.1 1509.8,1139.1 1515.5,1261.2 1517.7,1153.2 1520.2,1152.3" fill="none" stroke="#000" stroke-width="2.2" stroke-linejoin="miter" stroke-miterlimit="2" shape-rendering="crispEdges"/><path d="M975.7,1220.2 984.8,1210.7 993.9,1201.4 1002.9,1192.5 1012,1183.9 1021.1,1175.6 1030.2,1167.7 1039.2,1160 1048.3,1152.6 1057.4,1145.5 1066.5,1138.8 1075.5,1132.3 1084.6,1126.2 1093.7,1120.3 1102.8,1114.8 1111.8,1109.5 1120.9,1104.6 1130,1100 1139,1095.7 1148.1,1091.7 1157.2,1088 1166.3,1084.6 1175.4,1081.5 1184.4,1078.7 1193.5,1076.2 1202.6,1074.1 1211.7,1072.2 1220.7,1070.7 1229.8,1069.4 1238.9,1068.5 1248,1067.8 1257,1067.5 1266.1,1067.5 1275.2,1067.8 1284.2,1068.4 1293.3,1069.3 1302.4,1070.5 1311.5,1072 1320.6,1073.8 1329.6,1075.9 1338.7,1078.4 1347.8,1081.1 1356.8,1084.1 1365.9,1087.5 1375,1091.1 1384.1,1095.1 1393.2,1099.4 1402.2,1103.9 1411.3,1108.8 1420.4,1114 1429.5,1119.5 1438.5,1125.3 1447.6,1131.4 1456.7,1137.8 1465.8,1144.5 1474.8,1151.6 1483.9,1158.9 1493,1166.5 1502.1,1174.5 1511.1,1182.7 1520.2,1191.3" fill="none" stroke="#f00" stroke-width="3.0" shape-rendering="crispEdges"/><path d="M918.3,774.9H1537V1392.9H918.3Z" fill="none" stroke="#000" stroke-width="2.2"/><path d="M896.8,1392.9H918.3M907.3,1380.5H918.3M907.3,1368.2H918.3M907.3,1355.8H918.3M907.3,1343.5H918.3M896.8,1331.1H918.3M907.3,1318.7H918.3M907.3,1306.4H918.3M907.3,1294H918.3M907.3,1281.7H918.3M896.8,1269.3H918.3M907.3,1256.9H918.3M907.3,1244.6H918.3M907.3,1232.2H918.3M907.3,1219.9H918.3M896.8,1207.5H918.3M907.3,1195.1H918.3M907.3,1182.8H918.3M907.3,1170.4H918.3M907.3,1158.1H918.3M896.8,1145.7H918.3M907.3,1133.3H918.3M907.3,1121H918.3M907.3,1108.6H918.3M907.3,1096.3H918.3M896.8,1083.9H918.3M907.3,1071.5H918.3M907.3,1059.2H918.3M907.3,1046.8H918.3M907.3,1034.5H918.3M896.8,1022.1H918.3M907.3,1009.7H918.3M907.3,997.4H918.3M907.3,985H918.3M907.3,972.7H918.3M896.8,960.3H918.3M907.3,947.9H918.3M907.3,935.6H918.3M907.3,923.2H918.3M907.3,910.9H918.3M896.8,898.5H918.3M907.3,886.1H918.3M907.3,873.8H918.3M907.3,861.4H918.3M907.3,849.1H918.3M896.8,836.7H918.3M907.3,824.3H918.3M907.3,812H918.3M907.3,799.6H918.3M907.3,787.3H918.3M896.8,774.9H918.3M918.3,1392.9V1413.4M935.5,1392.9V1403.9M952.7,1392.9V1403.9M969.9,1392.9V1403.9M987,1392.9V1413.4M1004.2,1392.9V1403.9M1021.4,1392.9V1403.9M1038.6,1392.9V1403.9M1055.8,1392.9V1413.4M1073,1392.9V1403.9M1090.2,1392.9V1403.9M1107.3,1392.9V1403.9M1124.5,1392.9V1413.4M1141.7,1392.9V1403.9M1158.9,1392.9V1403.9M1176.1,1392.9V1403.9M1193.3,1392.9V1413.4M1210.5,1392.9V1403.9M1227.7,1392.9V1403.9M1244.8,1392.9V1403.9M1262,1392.9V1413.4M1279.2,1392.9V1403.9M1296.4,1392.9V1403.9M1313.6,1392.9V1403.9M1330.8,1392.9V1413.4M1348,1392.9V1403.9M1365.1,1392.9V1403.9M1382.3,1392.9V1403.9M1399.5,1392.9V1413.4M1416.7,1392.9V1403.9M1433.9,1392.9V1403.9M1451.1,1392.9V1403.9M1468.3,1392.9V1413.4M1485.4,1392.9V1403.9M1502.6,1392.9V1403.9M1519.8,1392.9V1403.9M1537,1392.9V1413.4" stroke="#000" stroke-width="2.4" fill="none"/><rect x="836.6" y="1395.8" width="24" height="2.7" fill="#000"/><text transform="translate(883.3,1409.7) scale(0.805,1)" text-anchor="end">4</text><rect x="836.6" y="1334" width="24" height="2.7" fill="#000"/><text transform="translate(883.3,1347.9) scale(0.805,1)" text-anchor="end">3</text><rect x="836.6" y="1272.2" width="24" height="2.7" fill="#000"/><text transform="translate(883.3,1286.1) scale(0.805,1)" text-anchor="end">2</text><rect x="836.6" y="1210.4" width="24" height="2.7" fill="#000"/><text transform="translate(883.3,1224.3) scale(0.805,1)" text-anchor="end">1</text><text transform="translate(881.3,1162.5) scale(0.805,1)" text-anchor="end">0</text><text transform="translate(881.3,1100.7) scale(0.805,1)" text-anchor="end">1</text><text transform="translate(881.3,1038.9) scale(0.805,1)" text-anchor="end">2</text><text transform="translate(881.3,977.1) scale(0.805,1)" text-anchor="end">3</text><text transform="translate(881.3,915.3) scale(0.805,1)" text-anchor="end">4</text><text transform="translate(881.3,853.5) scale(0.805,1)" text-anchor="end">5</text><text transform="translate(881.3,791.7) scale(0.805,1)" text-anchor="end">6</text><text transform="translate(987.9,1448.8) scale(0.805,1)" text-anchor="middle">1825</text><text transform="translate(1125.4,1448.8) scale(0.805,1)" text-anchor="middle">1875</text><text transform="translate(1262.9,1448.8) scale(0.805,1)" text-anchor="middle">1925</text><text transform="translate(1400.4,1448.8) scale(0.805,1)" text-anchor="middle">1975</text><text transform="translate(1537.9,1448.8) scale(0.805,1)" text-anchor="middle">2025</text><text transform="translate(1228.6,1488) scale(0.822,1)" text-anchor="middle" style="font-size:40px">Year</text><text transform="translate(832.1,1090) rotate(-90) scale(0.832,1)" text-anchor="middle">WeMO</text><text transform="translate(947.4,837) scale(0.805,1)">MAY</text></g>
<g><path d="M1749.9,1139.7 1751,1206.2 1752.9,1247.1 1755.2,971.4 1758.1,1172 1763.8,1195.8 1769.5,1193.9 1772.3,1036 1777.1,1134 1782.8,1137.8 1785.6,1297.5 1789.1,1137.8 1794.2,1268 1797,1042.7 1800.5,1139.7 1802.4,1231.9 1805.6,1193.9 1807.5,1210 1810.4,1119.7 1813.2,1217.6 1816.1,1116.8 1818.9,1266.1 1824.6,1093.1 1829.4,1226.2 1834.1,1016.1 1838.5,995.1 1840.8,1092.1 1844.6,1168.2 1849.3,1234.7 1854.1,1055 1856.9,1101.6 1860.2,1082.6 1865.5,1134 1868.7,1055 1873.1,1194.8 1878.8,1191.9 1881.7,1128.2 1885.5,1148.2 1887.9,951.4 1890.2,1123.5 1895.9,1114 1901.2,978 1903.9,1229 1908.3,1057.9 1912.5,959 1914.9,1063.6 1918.7,1054.1 1923.5,979 1926,1145.4 1928.8,972.3 1931.1,1191 1937.2,1038.9 1943.1,1169.1 1945.4,1061.7 1949.2,1073.1 1953.9,1152 1956.4,1070.3 1959.6,1125.4 1964,1037.9 1970.1,1067.4 1975.8,1025.6 1978.1,1085.5 1981.1,1026.5 1984,1054.1 1986.2,1007.5 1988.7,1067.4 1994.4,965.7 1997.7,1056 2000.1,989.1 2003,1071.2 2005.8,982.8 2011,1076.9 2013.8,1149.2 2016.7,1042.7 2019.1,1096.9 2023.3,1076.9 2029,1039.8 2033.3,1071.2 2035.2,1054.1 2039,971.4 2040.9,1114.9 2043.8,1198.6 2047.2,1056 2049.5,1153 2053.3,1130.2 2055.2,1126.3 2058.4,1005.6 2060.9,1112.1 2064.1,1071.2 2066.6,996.1 2069.4,1063.6 2071.7,1152 2074.6,1063.6 2078,1084.5 2082.7,1129.2 2085.6,1088.3 2088.1,1095.9 2090.9,1208.1 2094.2,1073.1 2096.4,1146.3 2098.9,1054.1 2103.7,1136.8 2109.4,1122.5 2115.6,1038.9 2118.9,1121.6 2121.4,1025.6 2124.2,1098.8 2127.1,1012.3 2132.2,1204.3 2135,1134.9 2138.3,1201.5 2140.4,1111.1 2143.6,1159.6 2147,1087.4 2151.2,1205.3 2156.9,1101.6 2159.8,1122.5 2163,1022.7 2168.3,1177.7 2173.6,1041.7 2176.3,1217.6 2181.6,1040.8 2184.5,1110.2 2187.3,1045.5 2189.8,1191 2193,1073.1 2195.3,1191.9 2198.7,1101.6 2201.2,1185.3 2206.3,1120.6 2209.2,1158.7 2214.3,1053.1 2217.8,1073.1 2219.7,1056 2224.4,1067.4 2229.2,1176.7 2234.5,1101.6 2237.3,1132.1 2240,1102.6 2242.5,1132.1 2244.9,1092.1 2250.5,1191.9 2255.8,1263.3 2258.6,1339.3 2261.5,1143.5 2264,1208.1 2267.2,1090.2 2272.9,1198.6 2275.4,1146.3 2279.6,1177.7 2283.7,1250.9 2286.2,1156.8 2289.4,1226.2 2292.3,1118.7 2295.1,1208.1" fill="none" stroke="#000" stroke-width="2.2" stroke-linejoin="miter" stroke-miterlimit="2" shape-rendering="crispEdges"/><path d="M1749.5,1183.5 1758.6,1176 1767.7,1168.8 1776.8,1161.9 1785.9,1155.2 1795,1148.8 1804.1,1142.7 1813.2,1136.8 1822.2,1131.1 1831.3,1125.8 1840.4,1120.6 1849.5,1115.8 1858.6,1111.2 1867.7,1106.8 1876.8,1102.8 1885.9,1099 1895,1095.4 1904.1,1092.1 1913.2,1089.1 1922.3,1086.3 1931.4,1083.8 1940.5,1081.5 1949.6,1079.5 1958.6,1077.8 1967.7,1076.3 1976.8,1075.1 1985.9,1074.1 1995,1073.4 2004.1,1073 2013.2,1072.8 2022.3,1072.9 2031.4,1073.2 2040.5,1073.8 2049.6,1074.7 2058.7,1075.8 2067.8,1077.2 2076.9,1078.8 2086,1080.7 2095,1082.9 2104.1,1085.3 2113.2,1088 2122.3,1090.9 2131.4,1094.1 2140.5,1097.6 2149.6,1101.3 2158.7,1105.2 2167.8,1109.5 2176.9,1114 2186,1118.7 2195.1,1123.8 2204.2,1129 2213.3,1134.6 2222.4,1140.4 2231.4,1146.4 2240.5,1152.7 2249.6,1159.3 2258.7,1166.1 2267.8,1173.2 2276.9,1180.6 2286,1188.2 2295.1,1196.1" fill="none" stroke="#f00" stroke-width="3.0" shape-rendering="crispEdges"/><path d="M1692.4,773.4H2311V1390.8H1692.4Z" fill="none" stroke="#000" stroke-width="2.2"/><path d="M1670.9,1390.8H1692.4M1681.4,1378.5H1692.4M1681.4,1366.1H1692.4M1681.4,1353.8H1692.4M1681.4,1341.4H1692.4M1670.9,1329.1H1692.4M1681.4,1316.7H1692.4M1681.4,1304.4H1692.4M1681.4,1292H1692.4M1681.4,1279.7H1692.4M1670.9,1267.3H1692.4M1681.4,1255H1692.4M1681.4,1242.6H1692.4M1681.4,1230.3H1692.4M1681.4,1217.9H1692.4M1670.9,1205.6H1692.4M1681.4,1193.2H1692.4M1681.4,1180.9H1692.4M1681.4,1168.5H1692.4M1681.4,1156.2H1692.4M1670.9,1143.8H1692.4M1681.4,1131.5H1692.4M1681.4,1119.1H1692.4M1681.4,1106.8H1692.4M1681.4,1094.4H1692.4M1670.9,1082.1H1692.4M1681.4,1069.8H1692.4M1681.4,1057.4H1692.4M1681.4,1045.1H1692.4M1681.4,1032.7H1692.4M1670.9,1020.4H1692.4M1681.4,1008H1692.4M1681.4,995.7H1692.4M1681.4,983.3H1692.4M1681.4,971H1692.4M1670.9,958.6H1692.4M1681.4,946.3H1692.4M1681.4,933.9H1692.4M1681.4,921.6H1692.4M1681.4,909.2H1692.4M1670.9,896.9H1692.4M1681.4,884.5H1692.4M1681.4,872.2H1692.4M1681.4,859.8H1692.4M1681.4,847.5H1692.4M1670.9,835.1H1692.4M1681.4,822.8H1692.4M1681.4,810.4H1692.4M1681.4,798.1H1692.4M1681.4,785.7H1692.4M1670.9,773.4H1692.4M1692.4,1390.8V1411.3M1709.6,1390.8V1401.8M1726.8,1390.8V1401.8M1744,1390.8V1401.8M1761.1,1390.8V1411.3M1778.3,1390.8V1401.8M1795.5,1390.8V1401.8M1812.7,1390.8V1401.8M1829.9,1390.8V1411.3M1847.1,1390.8V1401.8M1864.2,1390.8V1401.8M1881.4,1390.8V1401.8M1898.6,1390.8V1411.3M1915.8,1390.8V1401.8M1933,1390.8V1401.8M1950.2,1390.8V1401.8M1967.3,1390.8V1411.3M1984.5,1390.8V1401.8M2001.7,1390.8V1401.8M2018.9,1390.8V1401.8M2036.1,1390.8V1411.3M2053.2,1390.8V1401.8M2070.4,1390.8V1401.8M2087.6,1390.8V1401.8M2104.8,1390.8V1411.3M2122,1390.8V1401.8M2139.2,1390.8V1401.8M2156.3,1390.8V1401.8M2173.5,1390.8V1411.3M2190.7,1390.8V1401.8M2207.9,1390.8V1401.8M2225.1,1390.8V1401.8M2242.3,1390.8V1411.3M2259.4,1390.8V1401.8M2276.6,1390.8V1401.8M2293.8,1390.8V1401.8M2311,1390.8V1411.3" stroke="#000" stroke-width="2.4" fill="none"/><rect x="1610.7" y="1394.9" width="24" height="2.7" fill="#000"/><text transform="translate(1657.4,1408.8) scale(0.805,1)" text-anchor="end">4</text><rect x="1610.7" y="1333.1" width="24" height="2.7" fill="#000"/><text transform="translate(1657.4,1347.1) scale(0.805,1)" text-anchor="end">3</text><rect x="1610.7" y="1271.4" width="24" height="2.7" fill="#000"/><text transform="translate(1657.4,1285.3) scale(0.805,1)" text-anchor="end">2</text><rect x="1610.7" y="1209.6" width="24" height="2.7" fill="#000"/><text transform="translate(1657.4,1223.6) scale(0.805,1)" text-anchor="end">1</text><text transform="translate(1655.4,1161.8) scale(0.805,1)" text-anchor="end">0</text><text transform="translate(1655.4,1100.1) scale(0.805,1)" text-anchor="end">1</text><text transform="translate(1655.4,1038.4) scale(0.805,1)" text-anchor="end">2</text><text transform="translate(1655.4,976.6) scale(0.805,1)" text-anchor="end">3</text><text transform="translate(1655.4,914.9) scale(0.805,1)" text-anchor="end">4</text><text transform="translate(1655.4,853.1) scale(0.805,1)" text-anchor="end">5</text><text transform="translate(1655.4,791.4) scale(0.805,1)" text-anchor="end">6</text><text transform="translate(1760.5,1448.8) scale(0.805,1)" text-anchor="middle">1825</text><text transform="translate(1898,1448.8) scale(0.805,1)" text-anchor="middle">1875</text><text transform="translate(2035.5,1448.8) scale(0.805,1)" text-anchor="middle">1925</text><text transform="translate(2172.9,1448.8) scale(0.805,1)" text-anchor="middle">1975</text><text transform="translate(2310.4,1448.8) scale(0.805,1)" text-anchor="middle">2025</text><text transform="translate(2002,1488) scale(0.822,1)" text-anchor="middle" style="font-size:40px">Year</text><text transform="translate(1603.7,1090) rotate(-90) scale(0.832,1)" text-anchor="middle">WeMO</text><text transform="translate(1725.2,837) scale(0.805,1)">JUNE</text></g>
<g><path d="M205,1962.8 208.8,1989.5 210.6,1818.1 213.5,2065.2 217.3,1947.2 221.3,1840.4 224.6,1782.5 227.3,1856 230.2,1913.8 234.6,1884.9 239.1,1705.7 241.7,1911.6 244,1989.5 246.6,1902.7 249.1,1951.7 254,1860.4 258.4,1722.4 260.2,1980.6 264,1913.8 266.2,1936.1 269.6,1807 274,1951.7 279.6,1795.9 282.9,1918.3 288.5,1746.9 292.9,1927.2 298,1844.8 301.8,1946.1 308.1,1772.5 310.3,1936.1 315.6,1769.2 317.9,1911.6 324.1,1791.4 329.2,1726.9 332.5,1856 334.8,1759.1 338.1,1897.1 342.6,1803.7 345.9,1901.6 350.8,1820.3 353.7,1741.3 357,1869.3 359.7,1793.6 365.3,1729.1 370.8,1854.8 373.1,1681.2 378.6,1793.6 386.9,1911.6 390.4,1647.9 395.3,1778.1 400.9,1736.9 403.5,1799.2 409.1,1752.5 414.7,1811.4 418.7,1787 425.4,1877.1 431.4,1723.5 438.3,1791.4 442.5,1666.8 444.9,1689 448.3,1671.2 452.7,1844.8 458.3,1611.1 463.9,1802.5 466.5,1752.5 469.4,1800.3 475,1743.6 480.6,1856 483.2,1691.3 485.7,1862.6 488.4,1724.6 491,1671.2 493.9,1724.6 497.3,1610 499.9,1877.1 505.5,1683.5 510.6,1936.1 516.2,1810.3 519.1,1847.1 521.7,1687.9 524,1831.5 526.6,1801.4 529.5,1862.6 532.4,1739.1 538.4,1807 543.6,1758 548.4,1869.3 551.1,1889.3 555.1,1819.2 557.4,1880.4 562.9,1820.3 566.3,1815.9 570.7,1670.1 573.6,1790.3 579.6,1736.9 584.1,1842.6 587.4,1792.5 590.7,1896 593,1814.8 595.9,1886 601.2,1720.2 606.3,1893.8 611.9,1940.5 615.2,1813.7 617.9,1987.3 621,1797.6 626.3,1867.1 634.4,1773.2 638.1,1851.5 642.4,1750.2 645.9,1881.5 648.6,1818.1 653.1,1933.9 656.4,2062.9 659.3,1945 661.5,2017.3 664.9,1830.4 670.2,1916 672.6,1785.8 675.3,1926.1 678.7,1870.4 683.8,1912.7 689.8,1798.1 695.3,1866 697.6,1753.6 702.5,1832.6 705.4,1778.1 708.7,1900.5 713.6,2001.7 721.6,1808.1 724.3,1977.3 728.3,1879.3 733.2,2016.2 735.9,1866 741.4,1979.5 747,1766.9 749.9,1901.6" fill="none" stroke="#000" stroke-width="2.2" stroke-linejoin="miter" stroke-miterlimit="2" shape-rendering="crispEdges"/><path d="M205,1936 214.1,1925.7 223.2,1915.9 232.2,1906.3 241.3,1897.1 250.4,1888.3 259.5,1879.8 268.6,1871.6 277.7,1863.8 286.7,1856.4 295.8,1849.3 304.9,1842.5 314,1836.1 323.1,1830 332.1,1824.3 341.2,1819 350.3,1813.9 359.4,1809.2 368.5,1804.9 377.6,1800.9 386.6,1797.3 395.7,1794 404.8,1791.1 413.9,1788.5 423,1786.2 432,1784.3 441.1,1782.8 450.2,1781.6 459.3,1780.7 468.4,1780.2 477.4,1780 486.5,1780.2 495.6,1780.8 504.7,1781.6 513.8,1782.9 522.9,1784.4 531.9,1786.4 541,1788.6 550.1,1791.2 559.2,1794.2 568.3,1797.5 577.3,1801.2 586.4,1805.2 595.5,1809.5 604.6,1814.2 613.7,1819.3 622.8,1824.6 631.8,1830.4 640.9,1836.5 650,1842.9 659.1,1849.7 668.2,1856.8 677.2,1864.3 686.3,1872.1 695.4,1880.3 704.5,1888.8 713.6,1897.7 722.7,1906.9 731.7,1916.4 740.8,1926.3 749.9,1936.6" fill="none" stroke="#f00" stroke-width="3.0" shape-rendering="crispEdges"/><path d="M147.5,1506.6H765.9V2124H147.5Z" fill="none" stroke="#000" stroke-width="2.2"/><path d="M126,2124H147.5M136.5,2111.7H147.5M136.5,2099.3H147.5M136.5,2087H147.5M136.5,2074.6H147.5M126,2062.3H147.5M136.5,2049.9H147.5M136.5,2037.6H147.5M136.5,2025.2H147.5M136.5,2012.9H147.5M126,2000.5H147.5M136.5,1988.2H147.5M136.5,1975.8H147.5M136.5,1963.5H147.5M136.5,1951.1H147.5M126,1938.8H147.5M136.5,1926.4H147.5M136.5,1914.1H147.5M136.5,1901.7H147.5M136.5,1889.4H147.5M126,1877H147.5M136.5,1864.7H147.5M136.5,1852.3H147.5M136.5,1840H147.5M136.5,1827.6H147.5M126,1815.3H147.5M136.5,1803H147.5M136.5,1790.6H147.5M136.5,1778.3H147.5M136.5,1765.9H147.5M126,1753.6H147.5M136.5,1741.2H147.5M136.5,1728.9H147.5M136.5,1716.5H147.5M136.5,1704.2H147.5M126,1691.8H147.5M136.5,1679.5H147.5M136.5,1667.1H147.5M136.5,1654.8H147.5M136.5,1642.4H147.5M126,1630.1H147.5M136.5,1617.7H147.5M136.5,1605.4H147.5M136.5,1593H147.5M136.5,1580.7H147.5M126,1568.3H147.5M136.5,1556H147.5M136.5,1543.6H147.5M136.5,1531.3H147.5M136.5,1518.9H147.5M126,1506.6H147.5M147.5,2124V2144.5M164.7,2124V2135M181.9,2124V2135M199,2124V2135M216.2,2124V2144.5M233.4,2124V2135M250.6,2124V2135M267.7,2124V2135M284.9,2124V2144.5M302.1,2124V2135M319.3,2124V2135M336.5,2124V2135M353.6,2124V2144.5M370.8,2124V2135M388,2124V2135M405.2,2124V2135M422.3,2124V2144.5M439.5,2124V2135M456.7,2124V2135M473.9,2124V2135M491.1,2124V2144.5M508.2,2124V2135M525.4,2124V2135M542.6,2124V2135M559.8,2124V2144.5M576.9,2124V2135M594.1,2124V2135M611.3,2124V2135M628.5,2124V2144.5M645.7,2124V2135M662.8,2124V2135M680,2124V2135M697.2,2124V2144.5M714.4,2124V2135M731.5,2124V2135M748.7,2124V2135M765.9,2124V2144.5" stroke="#000" stroke-width="2.4" fill="none"/><rect x="65.8" y="2122.1" width="24" height="2.7" fill="#000"/><text transform="translate(112.5,2136) scale(0.805,1)" text-anchor="end">4</text><rect x="65.8" y="2060.3" width="24" height="2.7" fill="#000"/><text transform="translate(112.5,2074.3) scale(0.805,1)" text-anchor="end">3</text><rect x="65.8" y="1998.6" width="24" height="2.7" fill="#000"/><text transform="translate(112.5,2012.5) scale(0.805,1)" text-anchor="end">2</text><rect x="65.8" y="1936.8" width="24" height="2.7" fill="#000"/><text transform="translate(112.5,1950.8) scale(0.805,1)" text-anchor="end">1</text><text transform="translate(110.5,1889) scale(0.805,1)" text-anchor="end">0</text><text transform="translate(110.5,1827.3) scale(0.805,1)" text-anchor="end">1</text><text transform="translate(110.5,1765.6) scale(0.805,1)" text-anchor="end">2</text><text transform="translate(110.5,1703.8) scale(0.805,1)" text-anchor="end">3</text><text transform="translate(110.5,1642.1) scale(0.805,1)" text-anchor="end">4</text><text transform="translate(110.5,1580.3) scale(0.805,1)" text-anchor="end">5</text><text transform="translate(110.5,1518.6) scale(0.805,1)" text-anchor="end">6</text><text transform="translate(219.6,2188.2) scale(0.805,1)" text-anchor="middle">1825</text><text transform="translate(357,2188.2) scale(0.805,1)" text-anchor="middle">1875</text><text transform="translate(494.5,2188.2) scale(0.805,1)" text-anchor="middle">1925</text><text transform="translate(631.9,2188.2) scale(0.805,1)" text-anchor="middle">1975</text><text transform="translate(769.3,2188.2) scale(0.805,1)" text-anchor="middle">2025</text><text transform="translate(460.4,2226.8) scale(0.822,1)" text-anchor="middle" style="font-size:40px">Year</text><text transform="translate(59,1821.5) rotate(-90) scale(0.832,1)" text-anchor="middle">WeMO</text><text transform="translate(175.9,1567) scale(0.805,1)">JULY</text></g>
<g><path d="M975.7,1969.6 978.5,1985.6 981,1931.1 983.8,1978.1 987.2,1957.4 989.4,1995.9 992.2,1899.2 994.5,1816.5 1000.3,1865.4 1005.4,1854.1 1009.1,1792.1 1011,1892.6 1013.8,1825.9 1016.1,1931.1 1019.5,1998.7 1022.9,1879.5 1025.1,1922.7 1028.9,1920.8 1031.7,2038.2 1034.5,2030.7 1036.4,2043.8 1039.2,1889.8 1044.3,1860.7 1049.5,1895.4 1052.7,1885.1 1055.5,1947.1 1058,1842.8 1060.8,1759.2 1063.6,1955.5 1066.4,2038.2 1069.2,1955.5 1071.7,1910.4 1074.3,1983.7 1077.7,1852.2 1080.1,1914.2 1083,1891.7 1085.2,1908.6 1090.8,1838.1 1094.2,1878.5 1097,1785.5 1100.2,1899.2 1102.5,1960.2 1104.9,1861.6 1107.7,1883.2 1110.6,1733.9 1113,1915.1 1116.2,1805.3 1119.4,1848.5 1121.8,1830.6 1124.3,1865.4 1129.9,1790.2 1132.7,1735.8 1135.4,1848.5 1137.8,1748 1140.6,1775.2 1143.1,1717.9 1146.3,1841 1148.7,1877.6 1151.9,1826.9 1154.3,1884.2 1157,1884.2 1159.4,1804.3 1163.7,1799.6 1167.9,1774.3 1170.7,1861.6 1173.5,1931.1 1177.2,1904.8 1182.5,1825 1185.7,1842.8 1190,1902 1196,1829.7 1198.8,1845.6 1206.4,1763.6 1209.2,1865.4 1212.9,1876.6 1215.4,1764.9 1217.6,1784.6 1220.4,1749.9 1222.7,1824 1226.1,1669.1 1231.7,1899.2 1239.6,1759.2 1242.6,1835.3 1245.2,1794.9 1247.1,1867.2 1250.9,1808.1 1253.3,1835.3 1255.3,1824 1257.8,1786.5 1260,1770.5 1262.3,1812.8 1264.3,1882.3 1267.5,1782.7 1270,1875.7 1273.2,1850.3 1275.6,1848.5 1277.9,1683.2 1281.1,2043.8 1284.1,1914.2 1286.3,1736.7 1289.1,1923.6 1292,1964.9 1294.2,1872.9 1297,1786.5 1300,1856.9 1305.1,1840 1307.9,1931.1 1311.1,1868.2 1313.9,1930.2 1316,1762.1 1322,1878.5 1324.8,1811.8 1327.3,1959.3 1332.7,1824 1338.4,1913.3 1341.2,1766.8 1343.6,1887 1346.4,1774.3 1352.1,1829.7 1354.9,1940.5 1357.3,1771.5 1360.9,1969.6 1366.1,1794.9 1369,1887 1374.2,1829.7 1377.4,1898.2 1379.9,1824 1382.5,1901.1 1385.5,1865.4 1388.1,1906.7 1391.1,1887.9 1393.4,1959.3 1395.6,1883.2 1400.9,1947.1 1404.3,1794 1406.9,1897.3 1412.2,1830.6 1415.9,1915.1 1420.6,1853.2 1424.4,1941.4 1429.6,1840 1431.9,2011.9 1436.6,1846.6 1442.2,1950.8 1445.6,1802.4 1448.4,1899.2 1451,1830.6 1453.9,1886 1456.3,1787.4 1461.9,1902.9 1473.2,1795.9 1477.9,1820.3 1480.7,1928.3 1484.5,1780.8 1487.3,1936.7 1489.2,1880.4 1492.6,1975.2 1494.8,1899.2 1497.6,1934.9 1500.4,1912.3 1503.6,1995 1506.1,1885.1 1511.3,2020.3 1516.4,1951.8 1519.2,1935.8" fill="none" stroke="#000" stroke-width="2.2" stroke-linejoin="miter" stroke-miterlimit="2" shape-rendering="crispEdges"/><path d="M975.3,1943.1 984.4,1935.9 993.4,1928.9 1002.5,1922.2 1011.6,1915.7 1020.6,1909.5 1029.7,1903.4 1038.8,1897.7 1047.8,1892.1 1056.9,1886.8 1066,1881.8 1075,1877 1084.1,1872.4 1093.1,1868.1 1102.2,1864 1111.3,1860.2 1120.3,1856.6 1129.4,1853.2 1138.5,1850.1 1147.5,1847.2 1156.6,1844.6 1165.7,1842.2 1174.7,1840 1183.8,1838.1 1192.9,1836.4 1201.9,1835 1211,1833.8 1220.1,1832.9 1229.1,1832.1 1238.2,1831.7 1247.2,1831.5 1256.3,1831.5 1265.4,1831.7 1274.4,1832.2 1283.5,1833 1292.6,1833.9 1301.6,1835.2 1310.7,1836.6 1319.8,1838.3 1328.8,1840.3 1337.9,1842.5 1347,1844.9 1356,1847.6 1365.1,1850.5 1374.2,1853.6 1383.2,1857 1392.3,1860.7 1401.4,1864.5 1410.4,1868.7 1419.5,1873 1428.5,1877.6 1437.6,1882.5 1446.7,1887.5 1455.7,1892.9 1464.8,1898.4 1473.9,1904.2 1482.9,1910.3 1492,1916.6 1501.1,1923.1 1510.1,1929.9 1519.2,1936.9" fill="none" stroke="#f00" stroke-width="3.0" shape-rendering="crispEdges"/><path d="M918.3,1506.4H1536V2123.9H918.3Z" fill="none" stroke="#000" stroke-width="2.2"/><path d="M896.8,2123.9H918.3M907.3,2111.6H918.3M907.3,2099.2H918.3M907.3,2086.9H918.3M907.3,2074.5H918.3M896.8,2062.2H918.3M907.3,2049.8H918.3M907.3,2037.5H918.3M907.3,2025.1H918.3M907.3,2012.8H918.3M896.8,2000.4H918.3M907.3,1988.1H918.3M907.3,1975.7H918.3M907.3,1963.4H918.3M907.3,1951H918.3M896.8,1938.7H918.3M907.3,1926.3H918.3M907.3,1914H918.3M907.3,1901.6H918.3M907.3,1889.2H918.3M896.8,1876.9H918.3M907.3,1864.6H918.3M907.3,1852.2H918.3M907.3,1839.9H918.3M907.3,1827.5H918.3M896.8,1815.2H918.3M907.3,1802.8H918.3M907.3,1790.5H918.3M907.3,1778.1H918.3M907.3,1765.8H918.3M896.8,1753.4H918.3M907.3,1741.1H918.3M907.3,1728.7H918.3M907.3,1716.4H918.3M907.3,1704H918.3M896.8,1691.7H918.3M907.3,1679.3H918.3M907.3,1667H918.3M907.3,1654.6H918.3M907.3,1642.2H918.3M896.8,1629.9H918.3M907.3,1617.5H918.3M907.3,1605.2H918.3M907.3,1592.9H918.3M907.3,1580.5H918.3M896.8,1568.2H918.3M907.3,1555.8H918.3M907.3,1543.5H918.3M907.3,1531.1H918.3M907.3,1518.8H918.3M896.8,1506.4H918.3M918.3,2123.9V2144.4M935.5,2123.9V2134.9M952.6,2123.9V2134.9M969.8,2123.9V2134.9M986.9,2123.9V2144.4M1004.1,2123.9V2134.9M1021.2,2123.9V2134.9M1038.4,2123.9V2134.9M1055.6,2123.9V2144.4M1072.7,2123.9V2134.9M1089.9,2123.9V2134.9M1107,2123.9V2134.9M1124.2,2123.9V2144.4M1141.4,2123.9V2134.9M1158.5,2123.9V2134.9M1175.7,2123.9V2134.9M1192.8,2123.9V2144.4M1210,2123.9V2134.9M1227.2,2123.9V2134.9M1244.3,2123.9V2134.9M1261.5,2123.9V2144.4M1278.6,2123.9V2134.9M1295.8,2123.9V2134.9M1312.9,2123.9V2134.9M1330.1,2123.9V2144.4M1347.3,2123.9V2134.9M1364.4,2123.9V2134.9M1381.6,2123.9V2134.9M1398.7,2123.9V2144.4M1415.9,2123.9V2134.9M1433,2123.9V2134.9M1450.2,2123.9V2134.9M1467.4,2123.9V2144.4M1484.5,2123.9V2134.9M1501.7,2123.9V2134.9M1518.8,2123.9V2134.9M1536,2123.9V2144.4" stroke="#000" stroke-width="2.4" fill="none"/><rect x="836.6" y="2122.2" width="24" height="2.7" fill="#000"/><text transform="translate(883.3,2136.1) scale(0.805,1)" text-anchor="end">4</text><rect x="836.6" y="2060.4" width="24" height="2.7" fill="#000"/><text transform="translate(883.3,2074.3) scale(0.805,1)" text-anchor="end">3</text><rect x="836.6" y="1998.7" width="24" height="2.7" fill="#000"/><text transform="translate(883.3,2012.6) scale(0.805,1)" text-anchor="end">2</text><rect x="836.6" y="1936.9" width="24" height="2.7" fill="#000"/><text transform="translate(883.3,1950.9) scale(0.805,1)" text-anchor="end">1</text><text transform="translate(881.3,1889.1) scale(0.805,1)" text-anchor="end">0</text><text transform="translate(881.3,1827.4) scale(0.805,1)" text-anchor="end">1</text><text transform="translate(881.3,1765.6) scale(0.805,1)" text-anchor="end">2</text><text transform="translate(881.3,1703.9) scale(0.805,1)" text-anchor="end">3</text><text transform="translate(881.3,1642.1) scale(0.805,1)" text-anchor="end">4</text><text transform="translate(881.3,1580.4) scale(0.805,1)" text-anchor="end">5</text><text transform="translate(881.3,1518.6) scale(0.805,1)" text-anchor="end">6</text><text transform="translate(987.8,2188.2) scale(0.805,1)" text-anchor="middle">1825</text><text transform="translate(1125.1,2188.2) scale(0.805,1)" text-anchor="middle">1875</text><text transform="translate(1262.4,2188.2) scale(0.805,1)" text-anchor="middle">1925</text><text transform="translate(1399.6,2188.2) scale(0.805,1)" text-anchor="middle">1975</text><text transform="translate(1536.9,2188.2) scale(0.805,1)" text-anchor="middle">2025</text><text transform="translate(1228.6,2226.8) scale(0.822,1)" text-anchor="middle" style="font-size:40px">Year</text><text transform="translate(830.5,1821.5) rotate(-90) scale(0.832,1)" text-anchor="middle">WeMO</text><text transform="translate(946,1567) scale(0.805,1)">AUGUST</text></g>
<g><path d="M1749.6,1910.5 1751.3,1955.8 1753,1978.4 1755.7,1887.9 1757.7,1995.8 1761.7,1959.2 1763.1,1843.5 1766.1,1877.5 1768.2,1894.9 1771,1842.7 1774.4,1788.7 1777.4,1842.7 1780,1882.7 1783.5,1852.2 1785.8,1934.9 1790.5,1837.5 1794.3,1898.3 1797.4,1830.5 1799.2,1761.8 1803,1834 1804.7,1971.4 1807.8,1882.7 1810.5,2018.4 1813.4,1867 1816,1910.5 1819.2,1893.1 1821.2,1825.3 1823.9,2018.4 1830.1,1926.2 1834.8,1784.4 1838.3,1868.8 1842.6,1938.4 1846.1,1820.1 1849.6,1900.1 1854,1817.4 1856.9,1840.9 1859.7,1769.6 1862.3,1896.6 1865.3,1807.9 1868.4,1789.6 1870.8,1976.6 1873.6,1826.1 1876.6,1894.9 1881.8,1814.8 1884.4,1868.8 1887,1789.6 1890,1895.7 1893.4,1813.1 1897.4,1880.9 1901.4,1755.7 1903.5,1910.5 1909.1,1724.4 1912.2,1796.6 1914.8,1719.2 1917.5,1673.9 1921.8,1759.2 1924.4,1834 1929.6,1851.4 1934,1921 1937.1,1865.3 1939.2,1906.2 1942.2,1850.5 1945.3,1884.4 1950.9,1785.3 1953.1,1937.5 1958.3,1728.7 1961.8,1924.4 1964.1,1743.5 1966.2,1952.3 1970,1820.1 1972.3,1883.6 1976.6,1854.9 1978.3,1868.8 1981,1785.3 1986.5,1947.1 1991.4,1767 1994.3,1824.4 1997,1745.2 2001.8,1880.1 2006.2,1778.3 2011.4,1841.8 2016.6,1723.5 2019.2,1959.2 2021.8,1870.5 2024.8,1984.5 2027.1,1720.9 2029.7,1781.8 2030.4,1783.5 2033,1748.7 2037.4,1828.8 2041.7,1778.3 2045.7,1897.5 2049.6,1755.7 2054.8,1995.8 2058.3,1842.7 2061.4,1787 2065.2,1828.8 2068.7,1847 2071,1829.6 2073.6,1874.9 2076.5,1809.6 2079.7,1959.2 2083.5,1894.9 2089.6,1799.2 2093.1,1780.9 2096,1871.4 2099.2,1814 2101.2,1958.4 2104.4,1778.3 2107,1851.4 2110.1,1747.9 2112.2,1833.1 2115,1693.9 2117.4,1827 2120,1834 2123.9,1767 2129.1,1959.2 2131.7,1821.8 2134.8,1940.1 2137.4,1831.4 2140.9,1835.7 2143.2,1887.9 2145.3,1865.3 2148.4,1922.7 2150.5,1788.7 2153.6,1707.8 2157.4,1896.6 2164.7,1984.5 2169.6,1765.3 2174,1848.8 2177.4,1851.4 2180.9,1734.8 2187,1880.9 2190,1797.4 2192.2,1878.3 2197.8,1774 2200.9,1916.6 2203.5,1891.4 2206.2,1990.5 2208.8,1856.6 2211.7,1955.8 2215.7,1886.2 2222.7,1814 2227.9,1757.4 2233.6,1972.3 2236.6,1871.4 2242.3,1834 2247,1870.5 2249.6,1825.3 2254,1893.1 2259.2,1901.8 2263.2,1974.9 2267,1927.9 2271.4,1893.1 2274.3,1968.8 2277.1,1873.1 2280.1,1970.5 2284.4,1870.5 2289.1,1829.6 2291.4,1914 2294,1907" fill="none" stroke="#000" stroke-width="2.2" stroke-linejoin="miter" stroke-miterlimit="2" shape-rendering="crispEdges"/><path d="M1749.6,1910.1 1758.7,1904.9 1767.7,1899.8 1776.8,1895 1785.9,1890.3 1795,1885.8 1804,1881.5 1813.1,1877.4 1822.2,1873.4 1831.3,1869.6 1840.3,1866 1849.4,1862.5 1858.5,1859.3 1867.6,1856.2 1876.6,1853.2 1885.7,1850.5 1894.8,1847.9 1903.8,1845.5 1912.9,1843.3 1922,1841.3 1931.1,1839.4 1940.1,1837.7 1949.2,1836.2 1958.3,1834.9 1967.4,1833.7 1976.4,1832.7 1985.5,1831.9 1994.6,1831.3 2003.7,1830.8 2012.7,1830.5 2021.8,1830.4 2030.9,1830.5 2039.9,1830.7 2049,1831.1 2058.1,1831.7 2067.2,1832.5 2076.2,1833.4 2085.3,1834.6 2094.4,1835.9 2103.5,1837.3 2112.5,1839 2121.6,1840.8 2130.7,1842.8 2139.8,1845 2148.8,1847.3 2157.9,1849.8 2167,1852.5 2176,1855.4 2185.1,1858.4 2194.2,1861.7 2203.3,1865.1 2212.3,1868.6 2221.4,1872.4 2230.5,1876.3 2239.6,1880.4 2248.6,1884.7 2257.7,1889.1 2266.8,1893.8 2275.9,1898.6 2284.9,1903.5 2294,1908.7" fill="none" stroke="#f00" stroke-width="3.0" shape-rendering="crispEdges"/><path d="M1692.4,1504.9H2310V2122.5H1692.4Z" fill="none" stroke="#000" stroke-width="2.2"/><path d="M1670.9,2122.5H1692.4M1681.4,2110.1H1692.4M1681.4,2097.8H1692.4M1681.4,2085.4H1692.4M1681.4,2073.1H1692.4M1670.9,2060.7H1692.4M1681.4,2048.4H1692.4M1681.4,2036H1692.4M1681.4,2023.7H1692.4M1681.4,2011.3H1692.4M1670.9,1999H1692.4M1681.4,1986.6H1692.4M1681.4,1974.3H1692.4M1681.4,1961.9H1692.4M1681.4,1949.6H1692.4M1670.9,1937.2H1692.4M1681.4,1924.9H1692.4M1681.4,1912.5H1692.4M1681.4,1900.2H1692.4M1681.4,1887.8H1692.4M1670.9,1875.5H1692.4M1681.4,1863.1H1692.4M1681.4,1850.8H1692.4M1681.4,1838.4H1692.4M1681.4,1826.1H1692.4M1670.9,1813.7H1692.4M1681.4,1801.3H1692.4M1681.4,1789H1692.4M1681.4,1776.6H1692.4M1681.4,1764.3H1692.4M1670.9,1751.9H1692.4M1681.4,1739.6H1692.4M1681.4,1727.2H1692.4M1681.4,1714.9H1692.4M1681.4,1702.5H1692.4M1670.9,1690.2H1692.4M1681.4,1677.8H1692.4M1681.4,1665.5H1692.4M1681.4,1653.1H1692.4M1681.4,1640.8H1692.4M1670.9,1628.4H1692.4M1681.4,1616.1H1692.4M1681.4,1603.7H1692.4M1681.4,1591.4H1692.4M1681.4,1579H1692.4M1670.9,1566.7H1692.4M1681.4,1554.3H1692.4M1681.4,1542H1692.4M1681.4,1529.6H1692.4M1681.4,1517.3H1692.4M1670.9,1504.9H1692.4M1692.4,2122.5V2143M1709.6,2122.5V2133.5M1726.7,2122.5V2133.5M1743.9,2122.5V2133.5M1761,2122.5V2143M1778.2,2122.5V2133.5M1795.3,2122.5V2133.5M1812.5,2122.5V2133.5M1829.6,2122.5V2143M1846.8,2122.5V2133.5M1864,2122.5V2133.5M1881.1,2122.5V2133.5M1898.3,2122.5V2143M1915.4,2122.5V2133.5M1932.6,2122.5V2133.5M1949.7,2122.5V2133.5M1966.9,2122.5V2143M1984,2122.5V2133.5M2001.2,2122.5V2133.5M2018.4,2122.5V2133.5M2035.5,2122.5V2143M2052.7,2122.5V2133.5M2069.8,2122.5V2133.5M2087,2122.5V2133.5M2104.1,2122.5V2143M2121.3,2122.5V2133.5M2138.4,2122.5V2133.5M2155.6,2122.5V2133.5M2172.8,2122.5V2143M2189.9,2122.5V2133.5M2207.1,2122.5V2133.5M2224.2,2122.5V2133.5M2241.4,2122.5V2143M2258.5,2122.5V2133.5M2275.7,2122.5V2133.5M2292.8,2122.5V2133.5M2310,2122.5V2143" stroke="#000" stroke-width="2.4" fill="none"/><rect x="1610.7" y="2122.2" width="24" height="2.7" fill="#000"/><text transform="translate(1657.4,2136.2) scale(0.805,1)" text-anchor="end">4</text><rect x="1610.7" y="2060.5" width="24" height="2.7" fill="#000"/><text transform="translate(1657.4,2074.4) scale(0.805,1)" text-anchor="end">3</text><rect x="1610.7" y="1998.7" width="24" height="2.7" fill="#000"/><text transform="translate(1657.4,2012.7) scale(0.805,1)" text-anchor="end">2</text><rect x="1610.7" y="1937" width="24" height="2.7" fill="#000"/><text transform="translate(1657.4,1950.9) scale(0.805,1)" text-anchor="end">1</text><text transform="translate(1655.4,1889.2) scale(0.805,1)" text-anchor="end">0</text><text transform="translate(1655.4,1827.4) scale(0.805,1)" text-anchor="end">1</text><text transform="translate(1655.4,1765.6) scale(0.805,1)" text-anchor="end">2</text><text transform="translate(1655.4,1703.9) scale(0.805,1)" text-anchor="end">3</text><text transform="translate(1655.4,1642.1) scale(0.805,1)" text-anchor="end">4</text><text transform="translate(1655.4,1580.4) scale(0.805,1)" text-anchor="end">5</text><text transform="translate(1655.4,1518.6) scale(0.805,1)" text-anchor="end">6</text><text transform="translate(1760.4,2188.2) scale(0.805,1)" text-anchor="middle">1825</text><text transform="translate(1897.7,2188.2) scale(0.805,1)" text-anchor="middle">1875</text><text transform="translate(2034.9,2188.2) scale(0.805,1)" text-anchor="middle">1925</text><text transform="translate(2172.2,2188.2) scale(0.805,1)" text-anchor="middle">1975</text><text transform="translate(2309.4,2188.2) scale(0.805,1)" text-anchor="middle">2025</text><text transform="translate(2002,2226.8) scale(0.822,1)" text-anchor="middle" style="font-size:40px">Year</text><text transform="translate(1602.1,1821.5) rotate(-90) scale(0.832,1)" text-anchor="middle">WeMO</text><text transform="translate(1717.6,1567) scale(0.805,1)">SEPTEMBER</text></g>
<g><path d="M204.9,2673.1 207.4,2638 211.1,2575 214,2584.3 217.3,2610.1 224.9,2588.5 228,2535.8 230.5,2643.2 235.9,2615.3 239,2677.2 241.4,2592.6 246.6,2566.8 249.7,2595.7 252.8,2551.3 255.3,2658.6 258,2569.9 261,2600.8 264.1,2696.8 268.3,2627.7 269.7,2586.4 271.8,2600.8 274.1,2493.1 277.6,2601.9 281.7,2541 285.4,2513.1 288.3,2567.8 291,2540 294.1,2556.5 297.2,2552.3 300.3,2617.4 304.4,2664.8 308.1,2596.7 310.2,2517.3 312.6,2596.7 315.3,2724.7 318.2,2617.4 321.3,2673.1 324.4,2739.1 327.1,2512.1 329.6,2671 334.9,2506.9 337.8,2543.1 340.5,2421.3 342.6,2633.9 346.7,2577.1 351.4,2614.3 353.9,2455.3 357,2669 359.5,2521.4 364.7,2594.7 368.4,2517.3 372.9,2489.4 378.3,2536.9 381.8,2426.4 383.9,2578.1 387.4,2517.3 390,2553.4 395.2,2496.6 397.9,2691.7 403.5,2530.7 406.6,2596.7 411.7,2557.5 414.2,2658.6 417.9,2582.3 420,2693.7 425.8,2551.3 430.9,2497.6 433.4,2593.6 436.5,2584.3 439,2612.2 442.7,2568.9 445.2,2689.6 447.8,2564.7 450.5,2639 456.1,2559.6 458.2,2690.6 463.3,2538.9 469.5,2418.2 474.7,2520.4 477.8,2607 480.9,2661.7 485,2554.4 485.7,2544.1 487.8,2565.8 491.1,2534.8 494,2631.8 497.7,2629.7 500.8,2514.2 504.9,2484.2 507.6,2567.8 511.1,2495.6 513.2,2557.5 518.8,2460.5 522.5,2536.9 524.5,2703 527.6,2565.8 529.7,2524.5 532.4,2622.5 535.9,2523.4 538,2618.4 541,2611.2 543.5,2476 546.2,2592.6 551.4,2633.9 557.1,2541 560,2555.4 562.7,2649.3 565.8,2465.7 568.5,2605 571,2503.8 573.7,2590.5 576.1,2529.6 579.2,2626.6 581.9,2538.9 584.8,2572 588.1,2537.9 590.6,2536.9 593.1,2658.6 598.4,2454.3 600.9,2808.3 604.4,2553.4 607.1,2586.4 611.8,2694.8 615.4,2596.7 621.1,2660.7 625.7,2392.4 629.8,2545.1 633.9,2673.1 636,2596.7 639.5,2705.1 642.2,2457.4 647.3,2503.8 650.4,2561.6 653.5,2534.8 656.2,2663.8 658.7,2621.5 663.2,2679.3 669.4,2615.3 672.1,2616.3 674.8,2491.5 681,2666.9 685.9,2524.5 689,2607 692.1,2453.3 694.8,2605 697.5,2546.2 700,2630.8 703.1,2538.9 706.2,2618.4 708.6,2619.4 710.9,2743.3 714,2672.1 716.5,2683.4 721.6,2629.7 725.8,2665.9 733,2648.3 741.3,2719.5 744.3,2557.5 747,2709.2 749.5,2590.5" fill="none" stroke="#000" stroke-width="2.2" stroke-linejoin="miter" stroke-miterlimit="2" shape-rendering="crispEdges"/><path d="M204.9,2621.7 214,2617.4 223.1,2613.3 232.1,2609.4 241.2,2605.6 250.3,2601.9 259.4,2598.5 268.4,2595.2 277.5,2592 286.6,2589 295.7,2586.2 304.7,2583.5 313.8,2581 322.9,2578.6 332,2576.4 341.1,2574.3 350.1,2572.4 359.2,2570.7 368.3,2569.1 377.4,2567.7 386.4,2566.5 395.5,2565.4 404.6,2564.4 413.7,2563.6 422.7,2563 431.8,2562.5 440.9,2562.2 450,2562.1 459,2562.1 468.1,2562.2 477.2,2562.5 486.3,2563 495.4,2563.7 504.4,2564.4 513.5,2565.4 522.6,2566.5 531.7,2567.8 540.7,2569.2 549.8,2570.8 558.9,2572.5 568,2574.4 577,2576.5 586.1,2578.7 595.2,2581.1 604.3,2583.6 613.4,2586.3 622.4,2589.1 631.5,2592.1 640.6,2595.3 649.7,2598.6 658.7,2602.1 667.8,2605.7 676.9,2609.5 686,2613.5 695,2617.6 704.1,2621.8 713.2,2626.3 722.3,2630.9 731.3,2635.6 740.4,2640.5 749.5,2645.6" fill="none" stroke="#f00" stroke-width="3.0" shape-rendering="crispEdges"/><path d="M147.8,2237.9H767V2858.4H147.8Z" fill="none" stroke="#000" stroke-width="2.2"/><path d="M126.3,2858.4H147.8M136.8,2846H147.8M136.8,2833.6H147.8M136.8,2821.2H147.8M136.8,2808.8H147.8M126.3,2796.3H147.8M136.8,2783.9H147.8M136.8,2771.5H147.8M136.8,2759.1H147.8M136.8,2746.7H147.8M126.3,2734.3H147.8M136.8,2721.9H147.8M136.8,2709.5H147.8M136.8,2697.1H147.8M136.8,2684.7H147.8M126.3,2672.2H147.8M136.8,2659.8H147.8M136.8,2647.4H147.8M136.8,2635H147.8M136.8,2622.6H147.8M126.3,2610.2H147.8M136.8,2597.8H147.8M136.8,2585.4H147.8M136.8,2573H147.8M136.8,2560.6H147.8M126.3,2548.2H147.8M136.8,2535.7H147.8M136.8,2523.3H147.8M136.8,2510.9H147.8M136.8,2498.5H147.8M126.3,2486.1H147.8M136.8,2473.7H147.8M136.8,2461.3H147.8M136.8,2448.9H147.8M136.8,2436.5H147.8M126.3,2424.1H147.8M136.8,2411.6H147.8M136.8,2399.2H147.8M136.8,2386.8H147.8M136.8,2374.4H147.8M126.3,2362H147.8M136.8,2349.6H147.8M136.8,2337.2H147.8M136.8,2324.8H147.8M136.8,2312.4H147.8M126.3,2300H147.8M136.8,2287.5H147.8M136.8,2275.1H147.8M136.8,2262.7H147.8M136.8,2250.3H147.8M126.3,2237.9H147.8M147.8,2858.4V2878.9M165,2858.4V2869.4M182.2,2858.4V2869.4M199.4,2858.4V2869.4M216.6,2858.4V2878.9M233.8,2858.4V2869.4M251,2858.4V2869.4M268.2,2858.4V2869.4M285.4,2858.4V2878.9M302.6,2858.4V2869.4M319.8,2858.4V2869.4M337,2858.4V2869.4M354.2,2858.4V2878.9M371.4,2858.4V2869.4M388.6,2858.4V2869.4M405.8,2858.4V2869.4M423,2858.4V2878.9M440.2,2858.4V2869.4M457.4,2858.4V2869.4M474.6,2858.4V2869.4M491.8,2858.4V2878.9M509,2858.4V2869.4M526.2,2858.4V2869.4M543.4,2858.4V2869.4M560.6,2858.4V2878.9M577.8,2858.4V2869.4M595,2858.4V2869.4M612.2,2858.4V2869.4M629.4,2858.4V2878.9M646.6,2858.4V2869.4M663.8,2858.4V2869.4M681,2858.4V2869.4M698.2,2858.4V2878.9M715.4,2858.4V2869.4M732.6,2858.4V2869.4M749.8,2858.4V2869.4M767,2858.4V2878.9" stroke="#000" stroke-width="2.4" fill="none"/><rect x="66.1" y="2857.6" width="24" height="2.7" fill="#000"/><text transform="translate(112.8,2871.5) scale(0.805,1)" text-anchor="end">4</text><rect x="66.1" y="2795.5" width="24" height="2.7" fill="#000"/><text transform="translate(112.8,2809.4) scale(0.805,1)" text-anchor="end">3</text><rect x="66.1" y="2733.5" width="24" height="2.7" fill="#000"/><text transform="translate(112.8,2747.4) scale(0.805,1)" text-anchor="end">2</text><rect x="66.1" y="2671.4" width="24" height="2.7" fill="#000"/><text transform="translate(112.8,2685.3) scale(0.805,1)" text-anchor="end">1</text><text transform="translate(110.8,2623.3) scale(0.805,1)" text-anchor="end">0</text><text transform="translate(110.8,2561.2) scale(0.805,1)" text-anchor="end">1</text><text transform="translate(110.8,2499.2) scale(0.805,1)" text-anchor="end">2</text><text transform="translate(110.8,2437.2) scale(0.805,1)" text-anchor="end">3</text><text transform="translate(110.8,2375.1) scale(0.805,1)" text-anchor="end">4</text><text transform="translate(110.8,2313.1) scale(0.805,1)" text-anchor="end">5</text><text transform="translate(110.8,2251) scale(0.805,1)" text-anchor="end">6</text><text transform="translate(220,2919) scale(0.805,1)" text-anchor="middle">1825</text><text transform="translate(357.6,2919) scale(0.805,1)" text-anchor="middle">1875</text><text transform="translate(495.2,2919) scale(0.805,1)" text-anchor="middle">1925</text><text transform="translate(632.8,2919) scale(0.805,1)" text-anchor="middle">1975</text><text transform="translate(770.4,2919) scale(0.805,1)" text-anchor="middle">2025</text><text transform="translate(460.4,2958.9) scale(0.822,1)" text-anchor="middle" style="font-size:40px">Year</text><text transform="translate(59,2547.9) rotate(-90) scale(0.832,1)" text-anchor="middle">WeMO</text><text transform="translate(173.7,2299.8) scale(0.805,1)">OCTOBER</text></g>
<g><path d="M975.6,2689.8 979.4,2709 981.9,2674.4 984.2,2578.2 988.1,2512.8 991.9,2558.9 993.9,2659 996.4,2734 999.6,2664.8 1003.5,2635.9 1008.3,2641.7 1012.1,2739.8 1015.4,2660.9 1017.9,2449.3 1021.2,2553.2 1024.6,2574.3 1027,2629.2 1031.4,2582 1034.8,2542.6 1037.2,2639.8 1040.4,2511.8 1042.9,2660.9 1045.8,2675.3 1049.7,2578.2 1055.1,2501.2 1059.3,2442.5 1062.2,2578.2 1064.7,2709 1067.6,2538.7 1070.4,2719.6 1073.1,2561.8 1076.2,2806.2 1080.5,2628.2 1083.9,2622.4 1087.2,2588.8 1089.7,2609 1095.5,2533.9 1097.8,2633 1101,2566.6 1103.2,2695.6 1105.5,2578.2 1108.7,2516.2 1112.2,2603.2 1115.1,2564.7 1119.9,2620.5 1125.1,2523.3 1128,2633 1130.5,2516.2 1134.3,2616.7 1136.8,2654.2 1140.1,2618.6 1144.9,2418.5 1150.3,2698.4 1155.5,2610.9 1161.3,2597.4 1163.6,2627.2 1166.1,2478.1 1169,2689.8 1172.4,2626.3 1174.7,2566.6 1177.2,2685.9 1182.8,2602.2 1186.3,2750.4 1194,2509.9 1199.8,2687.9 1201.7,2538.7 1205.1,2600.3 1207.8,2504.7 1213.2,2747.5 1220.9,2420.4 1224.8,2535.8 1229.6,2521.4 1232.5,2624.4 1238.2,2578.2 1240.5,2546.4 1243.4,2676.3 1245.9,2527.2 1248.8,2722.5 1253.6,2576.3 1256.5,2567.6 1260,2666.7 1262.7,2554.1 1265.8,2601.3 1268.5,2640.7 1271,2447.3 1273.9,2524.3 1276.7,2568.6 1281.6,2669.6 1284.4,2605.1 1287.3,2644.6 1290.2,2561.8 1292.7,2634 1296,2576.3 1299.8,2578.2 1303.7,2492.6 1306.2,2659 1309.5,2686.9 1312,2539.7 1315.6,2483.9 1318.1,2656.1 1322.9,2527.2 1325.8,2607 1331,2488.7 1334.5,2564.7 1337,2518.5 1339.9,2687.9 1342.6,2616.7 1345.4,2679.2 1347.9,2543.5 1350.4,2612.8 1353.7,2622.4 1359.1,2505.1 1361.4,2667.7 1366.8,2534.9 1370.1,2557 1373,2477.2 1377.8,2696.5 1383.9,2578.2 1388.9,2546.4 1394.5,2610.9 1398.9,2541.6 1405.7,2493.5 1408.6,2602.2 1410.9,2482.9 1414.7,2585.9 1422,2677.3 1427.8,2576.3 1430.7,2645.5 1433.6,2585.9 1439,2746.5 1447,2467.5 1450.5,2658 1452.8,2604.2 1455.3,2643.6 1458,2502.2 1461.5,2570.5 1465.9,2623.4 1469.2,2517.6 1471.5,2629.2 1474.9,2534.9 1477.2,2685.9 1483.6,2685 1489.4,2645.5 1493.2,2551.2 1496.7,2530.1 1500,2768.7 1504.8,2535.8 1507.1,2741.7 1510.5,2554.1 1513.4,2666.7 1516.3,2566.6 1518.2,2676.3 1521.5,2461.8" fill="none" stroke="#000" stroke-width="2.2" stroke-linejoin="miter" stroke-miterlimit="2" shape-rendering="crispEdges"/><path d="M975.6,2628 984.7,2625.8 993.8,2623.7 1002.9,2621.6 1012,2619.6 1021.1,2617.6 1030.2,2615.7 1039.3,2613.9 1048.4,2612.1 1057.5,2610.4 1066.6,2608.8 1075.7,2607.3 1084.8,2605.8 1093.9,2604.3 1103,2603 1112.1,2601.7 1121.2,2600.4 1130.3,2599.2 1139.4,2598.1 1148.5,2597.1 1157.6,2596.1 1166.7,2595.2 1175.8,2594.4 1184.9,2593.6 1194,2592.9 1203.1,2592.2 1212.2,2591.6 1221.3,2591.1 1230.4,2590.6 1239.5,2590.2 1248.5,2589.9 1257.6,2589.6 1266.7,2589.4 1275.8,2589.3 1284.9,2589.2 1294,2589.2 1303.1,2589.3 1312.2,2589.4 1321.3,2589.6 1330.4,2589.9 1339.5,2590.2 1348.6,2590.6 1357.7,2591 1366.8,2591.5 1375.9,2592.1 1385,2592.8 1394.1,2593.5 1403.2,2594.2 1412.3,2595.1 1421.4,2596 1430.5,2597 1439.6,2598 1448.7,2599.1 1457.8,2600.3 1466.9,2601.5 1476,2602.8 1485.1,2604.1 1494.2,2605.6 1503.3,2607 1512.4,2608.6 1521.5,2610.2" fill="none" stroke="#f00" stroke-width="3.0" shape-rendering="crispEdges"/><path d="M918.9,2237.1H1537.7V2857.4H918.9Z" fill="none" stroke="#000" stroke-width="2.2"/><path d="M897.4,2857.4H918.9M907.9,2845H918.9M907.9,2832.6H918.9M907.9,2820.2H918.9M907.9,2807.8H918.9M897.4,2795.4H918.9M907.9,2783H918.9M907.9,2770.6H918.9M907.9,2758.2H918.9M907.9,2745.7H918.9M897.4,2733.3H918.9M907.9,2720.9H918.9M907.9,2708.5H918.9M907.9,2696.1H918.9M907.9,2683.7H918.9M897.4,2671.3H918.9M907.9,2658.9H918.9M907.9,2646.5H918.9M907.9,2634.1H918.9M907.9,2621.7H918.9M897.4,2609.3H918.9M907.9,2596.9H918.9M907.9,2584.5H918.9M907.9,2572.1H918.9M907.9,2559.7H918.9M897.4,2547.2H918.9M907.9,2534.8H918.9M907.9,2522.4H918.9M907.9,2510H918.9M907.9,2497.6H918.9M897.4,2485.2H918.9M907.9,2472.8H918.9M907.9,2460.4H918.9M907.9,2448H918.9M907.9,2435.6H918.9M897.4,2423.2H918.9M907.9,2410.8H918.9M907.9,2398.4H918.9M907.9,2386H918.9M907.9,2373.6H918.9M897.4,2361.2H918.9M907.9,2348.8H918.9M907.9,2336.3H918.9M907.9,2323.9H918.9M907.9,2311.5H918.9M897.4,2299.1H918.9M907.9,2286.7H918.9M907.9,2274.3H918.9M907.9,2261.9H918.9M907.9,2249.5H918.9M897.4,2237.1H918.9M918.9,2857.4V2877.9M936.1,2857.4V2868.4M953.3,2857.4V2868.4M970.5,2857.4V2868.4M987.7,2857.4V2877.9M1004.8,2857.4V2868.4M1022,2857.4V2868.4M1039.2,2857.4V2868.4M1056.4,2857.4V2877.9M1073.6,2857.4V2868.4M1090.8,2857.4V2868.4M1108,2857.4V2868.4M1125.2,2857.4V2877.9M1142.4,2857.4V2868.4M1159.5,2857.4V2868.4M1176.7,2857.4V2868.4M1193.9,2857.4V2877.9M1211.1,2857.4V2868.4M1228.3,2857.4V2868.4M1245.5,2857.4V2868.4M1262.7,2857.4V2877.9M1279.9,2857.4V2868.4M1297.1,2857.4V2868.4M1314.2,2857.4V2868.4M1331.4,2857.4V2877.9M1348.6,2857.4V2868.4M1365.8,2857.4V2868.4M1383,2857.4V2868.4M1400.2,2857.4V2877.9M1417.4,2857.4V2868.4M1434.6,2857.4V2868.4M1451.8,2857.4V2868.4M1468.9,2857.4V2877.9M1486.1,2857.4V2868.4M1503.3,2857.4V2868.4M1520.5,2857.4V2868.4M1537.7,2857.4V2877.9" stroke="#000" stroke-width="2.4" fill="none"/><rect x="837.2" y="2857.4" width="24" height="2.7" fill="#000"/><text transform="translate(883.9,2871.3) scale(0.805,1)" text-anchor="end">4</text><rect x="837.2" y="2795.3" width="24" height="2.7" fill="#000"/><text transform="translate(883.9,2809.3) scale(0.805,1)" text-anchor="end">3</text><rect x="837.2" y="2733.3" width="24" height="2.7" fill="#000"/><text transform="translate(883.9,2747.2) scale(0.805,1)" text-anchor="end">2</text><rect x="837.2" y="2671.3" width="24" height="2.7" fill="#000"/><text transform="translate(883.9,2685.2) scale(0.805,1)" text-anchor="end">1</text><text transform="translate(881.9,2623.2) scale(0.805,1)" text-anchor="end">0</text><text transform="translate(881.9,2561.2) scale(0.805,1)" text-anchor="end">1</text><text transform="translate(881.9,2499.1) scale(0.805,1)" text-anchor="end">2</text><text transform="translate(881.9,2437.1) scale(0.805,1)" text-anchor="end">3</text><text transform="translate(881.9,2375.1) scale(0.805,1)" text-anchor="end">4</text><text transform="translate(881.9,2313) scale(0.805,1)" text-anchor="end">5</text><text transform="translate(881.9,2251) scale(0.805,1)" text-anchor="end">6</text><text transform="translate(988.6,2919) scale(0.805,1)" text-anchor="middle">1825</text><text transform="translate(1126.1,2919) scale(0.805,1)" text-anchor="middle">1875</text><text transform="translate(1263.6,2919) scale(0.805,1)" text-anchor="middle">1925</text><text transform="translate(1401.1,2919) scale(0.805,1)" text-anchor="middle">1975</text><text transform="translate(1538.6,2919) scale(0.805,1)" text-anchor="middle">2025</text><text transform="translate(1228.6,2958.9) scale(0.822,1)" text-anchor="middle" style="font-size:40px">Year</text><text transform="translate(830.5,2547.9) rotate(-90) scale(0.832,1)" text-anchor="middle">WeMO</text><text transform="translate(945.8,2299.8) scale(0.805,1)">NOVEMBER</text></g>
<g><path d="M1749.8,2585.1 1751.5,2659.3 1752.7,2704.8 1755.5,2582.5 1758.2,2595.2 1760.6,2614.6 1764.1,2555.6 1767.3,2591.8 1770,2650.9 1772.1,2677.9 1774.6,2573.3 1775.8,2558.1 1779.6,2554.7 1783.4,2481.3 1785.2,2645.8 1788.9,2721.7 1790.9,2535.3 1794.3,2655.9 1799.9,2575 1802.4,2760.5 1804.9,2569 1808.3,2652.6 1810.9,2652.6 1813.4,2701.5 1815.9,2517.6 1819.3,2519.3 1822.7,2647.5 1827.2,2540.4 1832.4,2671.1 1835.3,2613.8 1838.2,2666.9 1840.7,2492.3 1844.1,2682.9 1845.9,2591.8 1849.6,2705.7 1851.7,2562.3 1857.2,2516.8 1860.1,2716.7 1865.2,2573.3 1870.7,2672 1876.3,2539.5 1880,2586.8 1883.4,2595.2 1885.4,2558.1 1887.9,2658.5 1890.1,2596.9 1893.5,2650 1896,2472.1 1898.9,2624.7 1902.3,2551.3 1907,2537.8 1910,2676.2 1912.4,2540.4 1915.4,2596 1918,2556.4 1920.5,2586.8 1923.5,2554.7 1926.1,2638.2 1928.9,2503.3 1933.2,2661 1935.2,2714.1 1937.4,2647.5 1939.9,2688.8 1943.3,2604.5 1948.7,2632.3 1952.6,2559.8 1956.4,2534.5 1959.3,2654.2 1963.5,2601.9 1967.4,2550.5 1975.3,2601.1 1978.4,2569 1980.9,2662.7 1984.1,2533.6 1988.8,2571.6 1992.2,2558.1 1994.7,2578.3 1997.8,2553.9 2000.1,2639.9 2005.7,2539.5 2010.7,2552.2 2013.8,2661.8 2018.7,2499 2022.6,2597.7 2025.9,2559.8 2029.3,2476.3 2030.5,2476.3 2033.2,2600.3 2036,2556.4 2038.6,2568.2 2041.4,2611.2 2044.1,2569.9 2047,2557.2 2050,2580 2052.4,2671.1 2054.9,2723.4 2058,2607 2060.5,2512.5 2063.9,2490.6 2066.4,2622.2 2069.4,2528.6 2072.8,2600.3 2077.4,2537.8 2080.7,2612.1 2084.9,2658.5 2088.3,2608.7 2090.9,2539.5 2096.4,2513.4 2098.9,2711.6 2104.3,2522.7 2107.7,2627.2 2110.2,2512.5 2113.3,2720.9 2116.2,2543.7 2118.7,2537 2121.2,2591.8 2123.7,2606.2 2129.3,2465.3 2132.2,2554.7 2134.7,2581.7 2137.6,2560.6 2140.1,2688 2145.7,2480.5 2149.9,2512.5 2153.8,2580 2157,2511.7 2160,2650.9 2164.7,2701.5 2168.1,2632.3 2170.6,2558.1 2173.5,2688.8 2176.5,2600.3 2179.4,2663.5 2182.8,2558.1 2184.5,2513.4 2187.5,2534.5 2190,2456 2194.6,2585.1 2198,2630.6 2201.8,2583.4 2203.9,2547.1 2206.4,2666.9 2208.9,2564.8 2211.8,2712.4 2214.5,2615.4 2219.1,2650 2223.3,2482.2 2226.6,2622.2 2231.2,2697.3 2234.2,2598.6 2237.1,2661 2239.3,2515.9 2244.4,2672.8 2247.7,2605.3 2250.3,2634 2255.7,2615.4 2259.2,2649.2 2267.1,2601.9 2269.3,2627.2 2273,2511.7 2278.1,2639.1 2281,2571.6 2286.2,2704 2289.4,2517.6 2292.4,2571.6 2294.6,2577.5" fill="none" stroke="#000" stroke-width="2.2" stroke-linejoin="miter" stroke-miterlimit="2" shape-rendering="crispEdges"/><path d="M1749.8,2629.6 1758.9,2626.6 1768,2623.7 1777,2620.9 1786.1,2618.1 1795.2,2615.5 1804.3,2613 1813.4,2610.5 1822.4,2608.2 1831.5,2606 1840.6,2603.8 1849.7,2601.7 1858.8,2599.8 1867.8,2597.9 1876.9,2596.1 1886,2594.5 1895.1,2592.9 1904.2,2591.4 1913.2,2590 1922.3,2588.7 1931.4,2587.5 1940.5,2586.4 1949.6,2585.3 1958.6,2584.4 1967.7,2583.6 1976.8,2582.8 1985.9,2582.2 1995,2581.6 2004,2581.2 2013.1,2580.8 2022.2,2580.6 2031.3,2580.4 2040.4,2580.3 2049.4,2580.3 2058.5,2580.4 2067.6,2580.6 2076.7,2581 2085.8,2581.3 2094.8,2581.8 2103.9,2582.4 2113,2583.1 2122.1,2583.9 2131.2,2584.7 2140.2,2585.7 2149.3,2586.8 2158.4,2587.9 2167.5,2589.1 2176.6,2590.5 2185.6,2591.9 2194.7,2593.4 2203.8,2595.1 2212.9,2596.8 2222,2598.6 2231,2600.5 2240.1,2602.5 2249.2,2604.6 2258.3,2606.8 2267.4,2609.1 2276.4,2611.4 2285.5,2613.9 2294.6,2616.5" fill="none" stroke="#f00" stroke-width="3.0" shape-rendering="crispEdges"/><path d="M1692.4,2238.8H2311V2859H1692.4Z" fill="none" stroke="#000" stroke-width="2.2"/><path d="M1670.9,2859H1692.4M1681.4,2846.6H1692.4M1681.4,2834.2H1692.4M1681.4,2821.8H1692.4M1681.4,2809.4H1692.4M1670.9,2797H1692.4M1681.4,2784.6H1692.4M1681.4,2772.2H1692.4M1681.4,2759.8H1692.4M1681.4,2747.4H1692.4M1670.9,2735H1692.4M1681.4,2722.6H1692.4M1681.4,2710.2H1692.4M1681.4,2697.7H1692.4M1681.4,2685.3H1692.4M1670.9,2672.9H1692.4M1681.4,2660.5H1692.4M1681.4,2648.1H1692.4M1681.4,2635.7H1692.4M1681.4,2623.3H1692.4M1670.9,2610.9H1692.4M1681.4,2598.5H1692.4M1681.4,2586.1H1692.4M1681.4,2573.7H1692.4M1681.4,2561.3H1692.4M1670.9,2548.9H1692.4M1681.4,2536.5H1692.4M1681.4,2524.1H1692.4M1681.4,2511.7H1692.4M1681.4,2499.3H1692.4M1670.9,2486.9H1692.4M1681.4,2474.5H1692.4M1681.4,2462.1H1692.4M1681.4,2449.7H1692.4M1681.4,2437.3H1692.4M1670.9,2424.9H1692.4M1681.4,2412.5H1692.4M1681.4,2400.1H1692.4M1681.4,2387.6H1692.4M1681.4,2375.2H1692.4M1670.9,2362.8H1692.4M1681.4,2350.4H1692.4M1681.4,2338H1692.4M1681.4,2325.6H1692.4M1681.4,2313.2H1692.4M1670.9,2300.8H1692.4M1681.4,2288.4H1692.4M1681.4,2276H1692.4M1681.4,2263.6H1692.4M1681.4,2251.2H1692.4M1670.9,2238.8H1692.4M1692.4,2859V2879.5M1709.6,2859V2870M1726.8,2859V2870M1744,2859V2870M1761.1,2859V2879.5M1778.3,2859V2870M1795.5,2859V2870M1812.7,2859V2870M1829.9,2859V2879.5M1847.1,2859V2870M1864.2,2859V2870M1881.4,2859V2870M1898.6,2859V2879.5M1915.8,2859V2870M1933,2859V2870M1950.2,2859V2870M1967.3,2859V2879.5M1984.5,2859V2870M2001.7,2859V2870M2018.9,2859V2870M2036.1,2859V2879.5M2053.2,2859V2870M2070.4,2859V2870M2087.6,2859V2870M2104.8,2859V2879.5M2122,2859V2870M2139.2,2859V2870M2156.3,2859V2870M2173.5,2859V2879.5M2190.7,2859V2870M2207.9,2859V2870M2225.1,2859V2870M2242.3,2859V2879.5M2259.4,2859V2870M2276.6,2859V2870M2293.8,2859V2870M2311,2859V2879.5" stroke="#000" stroke-width="2.4" fill="none"/><rect x="1610.7" y="2857.2" width="24" height="2.7" fill="#000"/><text transform="translate(1657.4,2871.2) scale(0.805,1)" text-anchor="end">4</text><rect x="1610.7" y="2795.2" width="24" height="2.7" fill="#000"/><text transform="translate(1657.4,2809.2) scale(0.805,1)" text-anchor="end">3</text><rect x="1610.7" y="2733.2" width="24" height="2.7" fill="#000"/><text transform="translate(1657.4,2747.2) scale(0.805,1)" text-anchor="end">2</text><rect x="1610.7" y="2671.2" width="24" height="2.7" fill="#000"/><text transform="translate(1657.4,2685.1) scale(0.805,1)" text-anchor="end">1</text><text transform="translate(1655.4,2623.1) scale(0.805,1)" text-anchor="end">0</text><text transform="translate(1655.4,2561.1) scale(0.805,1)" text-anchor="end">1</text><text transform="translate(1655.4,2499.1) scale(0.805,1)" text-anchor="end">2</text><text transform="translate(1655.4,2437.1) scale(0.805,1)" text-anchor="end">3</text><text transform="translate(1655.4,2375) scale(0.805,1)" text-anchor="end">4</text><text transform="translate(1655.4,2313) scale(0.805,1)" text-anchor="end">5</text><text transform="translate(1655.4,2251) scale(0.805,1)" text-anchor="end">6</text><text transform="translate(1760.5,2919) scale(0.805,1)" text-anchor="middle">1825</text><text transform="translate(1898,2919) scale(0.805,1)" text-anchor="middle">1875</text><text transform="translate(2035.5,2919) scale(0.805,1)" text-anchor="middle">1925</text><text transform="translate(2172.9,2919) scale(0.805,1)" text-anchor="middle">1975</text><text transform="translate(2310.4,2919) scale(0.805,1)" text-anchor="middle">2025</text><text transform="translate(2002,2958.9) scale(0.822,1)" text-anchor="middle" style="font-size:40px">Year</text><text transform="translate(1602.1,2547.9) rotate(-90) scale(0.832,1)" text-anchor="middle">WeMO</text><text transform="translate(1721.5,2299.8) scale(0.805,1)">DECEMBER</text></g>
</svg>
</body></html>
